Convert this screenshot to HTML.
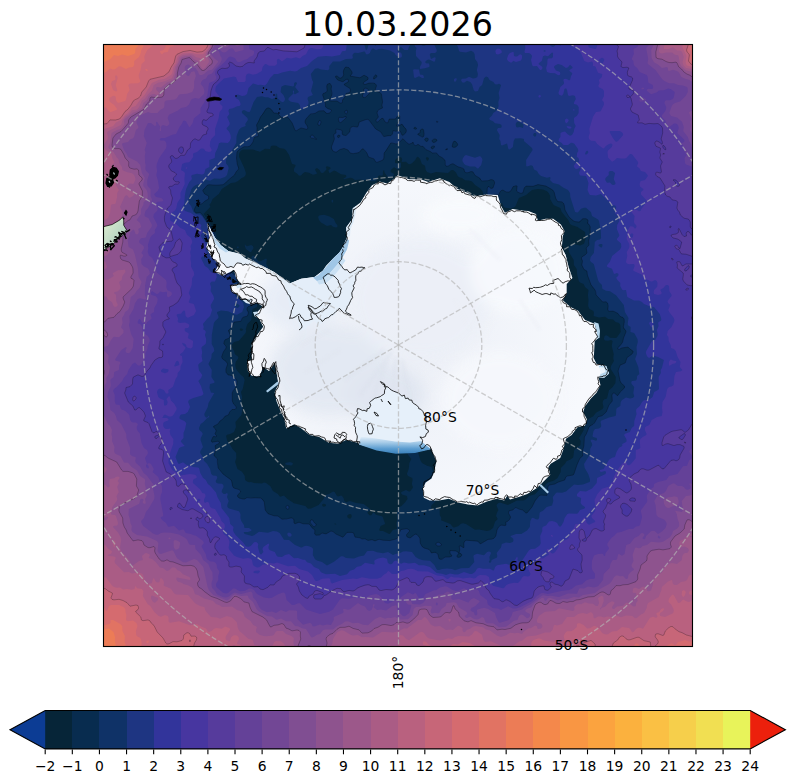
<!DOCTYPE html><html><head><meta charset="utf-8"><title>10.03.2026</title>
<style>html,body{margin:0;padding:0;background:#fff}svg{display:block}text{font-family:"DejaVu Sans","Liberation Sans",sans-serif;fill:#000}</style></head><body>
<svg width="795" height="783" viewBox="0 0 795 783">
<rect width="795" height="783" fill="#fff"/>
<defs><clipPath id="ax"><rect x="103.5" y="44.5" width="589.0" height="602.0"/></clipPath>
<radialGradient id="ig" gradientUnits="userSpaceOnUse" cx="398.5" cy="345.0" r="190"><stop offset="0" stop-color="#eceff6"/><stop offset="0.45" stop-color="#f0f3f9"/><stop offset="1" stop-color="#f7f9fd"/></radialGradient>
</defs>
<text x="397.5" y="36" font-size="33.33" text-anchor="middle">10.03.2026</text>
<g clip-path="url(#ax)">
<rect x="103.5" y="44.5" width="589.0" height="602.0" fill="#062538"/>
<path fill="#082c4f" d="M103 44L693 44L693 647L103 647L103 44ZM271 146L270 148.9L265 148.8L260 151.7L253 149.6L243 149.4L241 150.6L239.3 153L239 156.8L244.3 168L245.9 173L245.7 175L244.1 177L241.7 178L238 181L235 182.5L231 182.9L221.8 189L218.8 194L212.6 199L211 202.7L209.3 205L210.3 206L210.2 207L203.7 214L214.9 231L216.4 237L216.5 243L217.7 246L217.4 251L218 253L221.6 259L226 261.4L227.7 263L233.2 272L241 276.5L243 276.4L245 272.2L249 270L250.3 266L252 263.7L253 263.1L255 263.8L256.3 263L255 262.2L253 262.3L251.4 260L251.4 257L253 255.6L255.7 257L258 260.9L259 261.2L261 261L266 258.5L266.9 259L266.2 264L269.6 270L267.9 275L268 279L267 279.5L264.4 275L263 273.9L260 272.9L258 272.9L256.7 274L256 276.2L245.8 278L244.6 282L241.1 286L242.1 289L245 291.6L248 291.8L253 289.1L256 288.9L259 290.5L261 294L260.6 296L257.2 303L257 307L252.5 309L251.3 320L247.4 324L245.8 329L246.1 331L245.6 333L239 340.7L234 341.9L231.6 345L231.7 347L234.1 351L234.8 354L238.4 357L238 358.8L235.7 362L235.3 365L235.7 368L237 370.6L240.9 375L243.5 377L244.7 380L242.7 389L240.9 392L242.2 397L241.3 402L242.6 408L241.4 415L235.4 422L236 427L234 432L230 434.1L227 434.8L226.1 436L227.3 441L230 444.4L232.5 449L236.2 453L236.3 458L235.1 462L237.5 469L242 471.8L244.8 476L245 480L247 481.6L249 482.2L251 481.9L254 483.1L262 483.5L264 482.6L266 482.9L270.2 486L273 491L277.9 494L280 496.7L284 495.6L287.5 499L294 503.2L305.3 506L308 508.8L311 508.6L318.6 505L323.6 499L325.4 495L329 493.9L333 491.4L334.6 492L337 496L338 496.5L341 495.4L342 495.9L343.6 498L344.4 501L346 502.2L350 501.1L356 503L363.6 504L369 508L370.5 510L367.6 512L367.5 513L369 514.8L370 515.4L371.6 515L373 512.5L374 512.7L376 514.7L382 516.2L382.7 517L385.2 524L380.6 526L379.2 530L380 531L383 530.9L389.2 534L390 533.8L392.9 530L397 529L396.5 523L397.4 520L397 515L397.7 509L399 507.2L401.4 506L405 502.4L407.5 499L407 496L402 494.6L401 493L401.4 492L406 489.9L409 491.6L410 491.5L412.7 488L412.9 487L411.8 484L412.6 480L412.2 478L408 476L406.9 474L408.7 469L409.4 463L411.3 459L408 454.7L407.3 453L408.4 450L410 447.9L416 448.8L418.3 453L420.3 460L422 463.1L427 465.7L431.5 467L433.2 472L437.9 475L437.1 482L438.8 486L441.6 488L442.1 489L439.8 492L439.3 496L436.4 498L435.1 502L431.7 505L431 507L431.9 509L433 509.3L436 507.7L439.6 509L439.8 515L441.4 518L441 520.2L450.4 524L453 527.2L454 527.5L458 526.2L461 523.8L463 523.2L466 523.9L475 529.8L479 529.5L487 531.1L490 530.3L493 528L495 521.8L497.7 519L496.1 516L496.8 513L498.4 510L496.6 506L496.6 505L498 503.2L500 502.5L508 505L517 500.6L523 500.6L525 500L529.2 496L535 494.2L539 489.9L544 487L546 483.9L548 482.4L554 480.5L557.5 478L560.7 472L560.9 468L564.8 464L566.7 461L570 459.8L572.6 458L573.3 457L574.2 450L580.4 445L580.7 441L579.1 438L583.2 431L587.8 420L590 417.9L593 416.4L596 412.7L602.6 409L603.5 407L602.6 403L603 401L604 399.6L607 398.4L609 390.2L612.7 387L615.4 383L615.8 377L611 369.6L610.6 368L611 366L613.9 361L613.2 358L613.7 354L611.7 346L612.6 341L611 339.9L608 340.7L605 340.6L603.8 339L604.6 336L606 335.3L608 335.9L610 337.7L616 337.9L617 337.3L620.7 332L620.3 325L619 323.1L615.6 322L613 319.5L608.2 319L605 316.7L599 317.4L593.6 316L593.9 313L593.4 311L589.5 309L588.1 306L588.5 300L587.9 295L588.5 290L585 287L583.6 284L580 282.4L578.8 281L577.1 274L576.7 269L573.9 265L573.7 260L568.8 252L568.5 248L570 245.4L574 244.2L580 245.5L584 243.8L585.5 239L585.1 232L577 226.7L572 225.3L570.1 224L568.2 220L561.7 212L560.3 208L554 205.3L552.9 204L550.1 199L550.2 196L548.7 193L547 191.3L543 189.4L538 189L532 190.1L526 194.9L518.9 198L515.6 206L514.6 207L511 208.5L505 207.7L503.8 207L502 203.2L501 202.7L498.2 203L495 202.4L492 203.3L490 202.5L485 198L482.3 191L480 188.2L475.1 185L472 181.5L469 180.4L465 180.2L462 178L459 177.2L457.7 176L456 172.5L453.2 170L451 170.3L448 173.1L436 171.9L431 173.4L427.1 172L425.7 170L425 165.8L421.9 164L420 158.8L418 156.7L417 157L415.2 160L412.3 163L410 164.2L408.4 164L406 161.7L401.6 162L402.2 159L401 157.2L399 157.3L397 158.2L395.1 160L395 163L398 163.6L401 162.4L401.1 167L400 168.6L398 169.6L394 167.2L390.8 170L390.6 172L394.2 174L393 176.6L390 177.9L387.7 177L384.8 173L384 170L383 171L382.9 175L382 175.7L379 175.6L377.7 177L376.6 180L375 181.2L371 181.3L367 179.6L364 180.2L361 179.6L355 180.1L352 178.1L350 177.7L344 179.2L343.3 179L344 178.2L346.3 177L346 174.9L341 174.3L336 171.2L334 170.6L330 173L329 172.6L328.4 170L330.3 169L330.7 168L329.5 167L327 166.3L325.8 167L326.5 169L326.1 170L323 172.9L321 172.8L319.5 170L317 168L315.4 169L315.1 170L316.9 173L316.5 174L313 174.8L309 172.8L305 172.1L303 173.2L301 175.4L299 175.8L297 173.5L294 171.5L293.9 169L295.5 166L295.5 165L292 163.8L289.1 155L285.8 150L284 148.7L279.6 148L276 145.8L273 145.5L271 146ZM427 156.9L425.8 158L427 160.8L428 160.4L428.9 159L428.8 158L427 156.9ZM240 328.5L239.8 330L241 330.9L243.3 330L242 328.5L240 328.5ZM323 503.7L321.9 505L323 506.5L324 506.8L325.8 506L326 505L325.2 504L323 503.7ZM335 523.6L334.1 524L336 524.5L336.4 524L335 523.6ZM350 514L348 514.8L347.1 516L347.9 518L350 518.7L351.1 518L351.8 516L351 514.3L350 514ZM331.8 200L333 199.8L333.3 201L333 202.2L332 202.7L331.4 201L331.8 200ZM321.8 215L324 214.8L329 216.3L333.9 219L335.6 223L337.4 225L337.4 227L336 227.4L333 226.7L331 225L327 226.1L321 222.6L319 220L318.1 217L319 215.6L321.8 215ZM245 243L245.3 245L247 246.3L251 244.9L252.9 246L253.6 248L251.1 252L250 251.9L245.9 249L244.8 246L245 243ZM236.8 247L238 246.3L238.8 247L238.7 248L237 248.2L236.8 247ZM352 282L353 281.9L353.6 283L353 284.3L352 284.6L351.4 283L352 282ZM261.1 371L262 370.5L264 372.3L262.6 373L261.1 371ZM249.3 376L250 375.2L251.9 376L250 377.2L249.3 376ZM290 462L292.7 463L292.9 464L292 465.2L291 465.6L286 464.8L284.8 464L286 462.8L290 462Z"/>
<path fill="#0f3267" d="M103 44L693 44L693 647L103 647L103 44ZM346 67L345 67.6L343.7 70L343.3 72L343.7 75L342 77.6L340 78.3L337 75.9L335.8 76L335.4 77L337.7 80L342 81.6L343 81.7L346 79.4L348 79.2L348.6 81L348.2 82L344.4 84L344.4 85L350 88.5L350.6 90L350 92.5L346 93.5L344.9 97L342.5 100L342.5 102L341.8 103L340 103.1L337 101L330.4 101L329.5 100L331.8 95L331.1 89L331.6 86L330 83.4L327.6 84L326.7 86L327.2 91L326 92.4L323 93.7L322.6 95L325.3 103L325.6 107L328 108.7L331 109.6L331.7 111L329.4 113L327 113.6L324 110.8L319 110.9L315 113.4L310 114.4L306 119L305 121L305.2 123L307.3 126L307.9 128L307 129.4L301 127.9L296 131L295 130.2L292.2 123L288 117.4L282 117.8L277 113.1L273.8 113L271.8 110L270 108.5L268 107.8L266 108.9L260.4 117L256.5 125L257.1 128L256.9 131L258.5 135L258 136.6L254.7 137L253 142L250.1 146L248 146.7L244 146.7L239 149.8L237 152L236.5 158L237.2 164L238.6 169L236 172L234.5 175L223 184.7L216 185.2L209 184.7L207 185.4L202.9 190L202.9 191L204.7 194L208.6 196L208.6 199L205 201L202 203.7L197 205.1L196 205.8L194.5 209L194.3 211L196 213L200 212.4L202 214.2L213.7 231L215.1 237L215.4 243L216.7 247L216.2 251L216.6 253L218.5 257L220.9 260L226 262.8L227 264L232 272.9L234 274.6L237.5 276L238.1 277L237.2 280L237.7 283L237 287L239.4 289L241 292.7L243 294.7L245 295.9L248 295.1L249 295.5L251 297.9L253.8 299L254 300L253.8 303L253 304.5L248 306.8L247 308L247 310L248.4 313L247.4 316L243 317.3L241 321.3L234 322.1L232.4 327L228.7 330L228.5 331L230.2 335L229.4 338L225 339.8L224 342L223.9 344L226 346L226.1 348L223.3 352L221.6 357L222.7 359L226 361.4L227.7 364L225.9 369L226 372.2L228 374.9L231 375.3L235 377.8L237.1 381L236.8 385L232.2 393L232.3 401L233.6 404L236 406.4L236.3 408L235 409.5L232 409.5L229.7 412L228.4 415L225 416.2L223 419L220 421L218 424L214 426L213.3 427L215.5 429L216.2 431L214.9 434L217 436L216 436.9L214 436.4L213 436.8L211.2 441L212 442.2L218 441.2L219.4 442L219 443.5L215.7 445L215 446L215.9 450L214 455L214.3 456L217.5 459L218.2 468L223 474L231.1 480L232.5 486L233.8 488L239 489.6L240.5 491L240.7 492L237.6 495L237.8 497L239.2 498L243 499.1L244.7 499L247 497.6L261 498.1L264.3 502L265.2 510L268 513.7L274 515.8L278 516.1L282 519.2L292 518L293.6 519L294 523L295 523.8L299 522.2L303 523.8L309 524L312 527.8L314.9 530L314.7 534L316 535.2L319.5 535L322 533L326 533.9L331 531L333 531.6L336 534.1L343 537.2L347 532.4L352 532.4L353.6 533L355 537.1L360 537.8L362 539.1L365 538.8L368 540.4L372 539.7L375 540.9L379 539.3L383 540.2L390 540.6L396 539L397.7 538L399.2 533L401 529.5L407 528.7L409.3 530L409.7 531L406.3 535L407.1 537L410 538L415 534.2L417 534.6L419.9 538L420.2 543L422 546.4L424.1 548L429 549.4L431.4 553L436 552.4L438 554.6L439 558.7L441 559.4L445 557.1L449.4 557L452 556L450 553.2L450 550.5L456 551L459 552.9L459.8 550L459.2 546L461 546L463 547.5L464 547.5L463.8 543L464.8 541L466 540.2L478 541.2L480 543.7L481 543.6L488 539.4L492 539.1L494 538.2L495.8 536L497 530L498.5 527L501 525.1L505 525.6L506 525.1L505.7 522L508 521.1L509.9 519L510.6 517L508.4 513L509 510.8L513 509.9L515 507.8L516 507.6L519 509.1L522.6 510L525.9 513L527 513L532 507L535 500.9L539 495.8L541 495.1L547 495.4L547.9 487L549 485.1L554.8 484L558 482.2L564.7 480L565.8 477L567 476.1L573.1 475L573.9 474L577 464.8L580 458.1L582.7 456L582.4 451L583.9 446L584.4 437L586.3 434L589 427.1L594.4 423L598 416.7L602 415.8L606.2 412L609 405L612.3 401L611.9 395L613 393.1L614.6 393L617 395.5L618 395.3L620.2 392L624.4 388L624.5 386L621.1 383L620 380.8L618.1 371L620 365.2L625.2 363L627 357.6L632 354L633.2 352L632.9 351L630 349.1L628 347L621.7 348L619 349.5L617.7 349L618 347.4L620 345.8L622.7 342L623.5 338L626 332L626 331L623.3 327L624.3 322L624.1 319L623 317.6L620 316.4L618 313.6L615 311.9L613 311.1L609 311.3L608 310.5L608.2 306L607.5 303L606 301.8L602.7 302L596.1 295L595 290L591 284.8L587.4 275L586.9 271L584 269.5L581.8 265L582.5 261L581.3 258L582 256.8L585 255L587 253L586.2 248L589.1 245L588.7 241L590.3 233L590.3 227L589 224.3L587 223L588 222.5L588 220L586 218.7L583 218.7L579 222.1L575 221.6L573 220.6L569 217L565 210L564.2 205L563.3 203L562 201.9L558 201.6L557 200.8L555.6 198L554.1 192L552.7 190L546 186.1L538 184.6L533 186.3L526 186.1L524.2 188L523 192.7L521 193.4L518 192.3L516.6 191L517.1 186L516 185.7L513 186.7L511 190.7L509 192.1L506 191.9L503 190.1L502 190.1L500 191.7L499.3 194L498.2 195L494 194.6L489 195.7L487.8 195L487 193L487.3 188L489 186.3L491 188.5L493 187.9L494.7 183L494.1 181L493.2 180L491 179.6L488 180.7L481.9 181L479.6 178L475 175.4L473 171.9L471 171.5L468 172.7L466 172.7L464.7 172L463.9 169L458 166.8L453 163.7L451 164.2L448 166.2L446 166.1L445.2 165L444.8 160L442 157.5L438.9 156L437 153.4L432.3 153L430 151.3L426 149.7L423 146.3L421 146.4L418 144.3L416 145.7L415 145.4L413.4 144L413 142L412.3 143L409 144.2L407 142.9L403 138.7L398 143.6L396 144L390.8 143L384.1 153L383.9 158L383 160L377 162.4L375.7 162L374 158.9L368.5 157L366.9 153L363 148.8L362 149.1L359 152.6L353 153.7L350.2 153L348 150L344 148.4L340 149.5L336.5 152L335 152L332.8 151L331.4 147L334.4 139L333.7 135L334.1 134L336.1 133L335.8 130L336.4 129L341.3 130L342.2 131L342.2 134L343 135L346 135.6L349.7 132L350.3 128L351 127.3L353 126.3L357 127.1L358 126.6L359.2 122L366 119.5L368 119.3L369 120.1L375.7 129L380.9 132L384 136.6L391 135.6L392.4 134L393 130.6L396 131.3L399 130.2L400.2 131L402 135.1L403 135.3L405.6 133L406.4 131L406 129L402 124.1L398 126.3L396.6 126L397.9 122L399.6 121L399.8 116L399 115.2L397.4 116L396 118.5L395 119L389.2 119L388 122.6L387 122.9L385.1 122L383 118.3L381 118.8L378 121.9L377 122.2L376 121.4L376 119.9L378.4 117L377 113L377.5 111L379 109.6L382.5 108L381.9 105L382.6 102L381.4 94L380 92.5L377 91.5L375.1 90L376.4 86L376.3 85L375 83.6L369 83.1L365 84.6L363.5 84L363.2 83L364 82L368 79.4L368.1 78L367.5 77L364 75.2L360 77.8L350 76L352 73.7L352.1 72L349 67.7L346 67ZM376 74.8L374 76.5L373.6 79L375 78.6L376.6 77L377 76L376 74.8ZM415 127L413.8 128L414.4 129L416 129.3L416.4 128L415 127ZM422 128.9L420.4 130L420 132.9L417.7 134L418.4 135L423 137.1L423.8 136L424.1 134L423.6 130L423 129.1L422 128.9ZM426 138L424.8 139L424.8 140L426 141.4L427 141.3L428 140.6L428.3 139L427.6 138L426 138ZM434 138.9L431.9 141L433 142.4L435 142.2L436.7 141L437 140L436 139.1L434 138.9ZM447 148.8L446 149L445.7 150L447.8 149L447 148.8ZM454 141.1L453 142.7L452.2 146L452.4 147L454 147.4L456 146.9L457.7 145L457.6 144L456 141.8L454 141.1ZM459 553L456.8 556L458 557.4L460.4 557L462 555L461 553.7L459 553ZM338 135L337.4 137L339 137.5L340.2 136L340 135.5L338 135ZM433 145.9L431.2 147L431.1 148L432 148.8L433 148.8L434.6 147L434.3 146L433 145.9ZM363.8 89L365 88.1L367 88.5L368.9 90L369.9 92L369 94L365 97.7L363 97.3L362.3 96L363.5 93L363.8 89ZM344.9 111L346 110.3L347.5 111L347 113.4L346 114.1L345 113L344.9 111ZM344.1 117L346 116.4L346.1 118L341 122.4L340 122.7L339.1 122L338.3 119L339 117.3L343 117.6L344.1 117ZM318.8 121L320 120.1L321.1 122L320.1 125L319 125.6L317.8 124L318.8 121ZM311.9 135L313 135.2L315 138L316.8 139L316 139.6L314 138.4L311 137.9L310.1 137L311.9 135ZM254.5 293L256 293L257.8 295L257 297.5L255 298.5L254.3 298L254 295L254.5 293ZM286.2 506L287 505.3L288.9 506L289 508.4L288 509.2L286.9 509L286 508L286.2 506ZM310.9 520L312.6 520L314.6 523L316.2 524L316.2 525L315 526.4L314 526.9L313 526.2L310.3 523L310 522L310.9 520ZM436.3 543L438 542.2L439 542.4L441.2 544L441.7 545L440 545.9L437.7 546L436.1 545L435.8 544L436.3 543Z"/>
<path fill="#1e3582" d="M103 44L364.2 44L366 50.2L367.3 49L368.7 44L374.9 44L375 46.2L375.9 45L375.3 44L381.1 44L382 44.5L382.6 44L410.7 44L408.9 47L408 50.1L404.3 50L401 47L397.8 49L397 51L401 52.8L401.7 54L402 56.2L401 57.7L399 57.2L395.6 55L394.5 53L390 50.6L382 48.7L379 49L376 50.3L373 48.3L371 50L369.9 53L368 54.2L366 54.3L365 51.8L364 51.4L358 53L355 52.7L354 53L352.4 55L352.9 58L352 58.8L346 59L340 61.4L333 61.6L329.3 66L329.3 69L328 70.2L321 69.6L318 68.2L315 68.7L310.8 74L312.1 80L313.3 82L311 91L312.9 95L308 97L307.5 99L308.6 102L308.4 104L306.3 107L303 109.1L301.7 109L300.5 108L299.8 105L298.2 103L291 101.7L288.4 100L288.7 98L292.9 94L293 93.1L295 94.3L299 92L295.1 87L297 83.2L296 81.9L294.2 83L293.9 86L293 86.4L285 84.9L282 86.2L281.3 87L280.6 92L283.4 95L285.2 99L284.4 101L283 102.2L281 101.5L277.4 98L277.1 94L276 93.6L275.4 95L275.7 97L274.8 98L272 99.1L268 97.3L265 97.3L262 96.3L257 97L253.6 102L250 111.7L248 112L244 110.1L241.9 111L242 113L247.5 118L247.9 120L245.2 124L245.7 126L241 127.7L238.9 130L236.6 136L236.3 143L231 152L228.2 155L226 160L226 163.3L228.1 166L228.7 168L227 175L225 176.9L220 178.8L214 178.4L210 180.7L205 179.6L202 183.7L198 184.2L195 185.5L193 187.1L191 190L188.4 200L189 203.5L191.1 206L193.4 212L196 214.1L200 214.5L202 216L212 231L212.4 236L215.3 248L214.5 252L215.1 255L214.4 258L216 260.4L219 261L224.7 264L227 266.8L230 273.9L229.6 278L232 282.1L233.9 284L232.9 288L234 289.5L236.4 291L236.6 292L235.1 295L235.3 296L239 298.4L243.2 303L244 307L242.2 312L237 314.8L235 314.6L228 311.3L221 310.5L217.2 312L217 313L218.4 316L218.4 318L215.2 321L213.9 323L211.8 335L211.7 344L213.8 348L214.3 351L211.7 354L211.4 358L208.4 364L211.8 370L211.4 377L214.7 382L214 383L210 384.1L209.5 388L211 392.5L214.3 393L208.5 403L207.8 407L204.3 414L204.7 416L206 417.5L207 417.8L209 415.6L209.2 417L207 418.2L203.5 422L200.7 424L199 428L199.4 430L202 432.2L202.8 434L200.8 438L200.6 440L203 447L200.4 451L200.2 453L202.9 457L204.1 461L207 463.8L210.1 469L211.3 474L213 475.4L216 475.7L217 476.5L217.3 478L215.7 481L216 482.4L218 483.6L222 483.7L223.3 485L223.6 487L222 490L221.7 492L223.7 494L225.1 494L227 493L227.8 494L227 497L228.7 501L227.3 505L227.4 507L229 508.6L239 511.2L240.5 514L240.4 518L241.3 521L243.9 525L244.5 528L249 527.9L251.8 530L250.8 531L248 532.1L244 531.9L243.8 533L244.8 534L252 535.9L254 535.2L259 531.7L268 532.7L273 531L277 531.4L279.7 533L284 539.7L289 540L295 545L301 547.4L302 547.5L304 546.2L306 545.8L309 546.2L312 547.4L313.1 549L312.8 555L315 559.2L317 560.6L322 562L327 565.4L334 561.7L341 556.2L343 556.3L346 558L354 558.5L359 556.4L364 555.5L367 551.3L368 551L373 550.7L377 552.3L383 553.3L388 551.9L393 555L396 553.7L399 553.6L403 551.4L406 551.3L412 552.1L415.6 557L419 559.1L423 560.2L430 560.8L434.3 565L436.5 569L437.6 570L439 570.1L442 568.9L447 568.5L452 569L455 570.3L461 568.3L469.1 568L474.3 562L473.4 556L474.1 555L477 553.8L484 555.3L487.1 552L489 551.5L490.4 552L491.1 553L489.4 557L489.8 560L488.8 562L490 563L491.1 562L491.6 560L497 557.6L497.3 556L496.6 553L501 547.6L501.8 544L506 542.4L510 543.1L512.7 542L513.4 541L513.3 539L512 537.4L510.8 537L510.6 536L516 534L521.3 534L527 530.5L529.8 527L530.3 521L531.8 518L533 517.7L536 519.3L538 519.5L539.1 518L539.6 513L540.3 512L543 510.7L546.7 507L552 505.4L553.3 501L552.8 497L556 493L557 492.6L562 492.8L566 491.4L574 484.4L578 485L583 484.6L589.5 482L590.1 481L589.9 479L588.2 474L584.7 468L584 464L590.2 454L590.1 449L592.2 445L592 443.3L590.6 441L590.9 440L592 439.6L596 440.7L597.1 440L596.7 438L593 437.1L592.5 436L593.5 431L595 429L599 428.6L601 427L601.2 425L600.5 422L601 420.8L609 417.4L615.4 416L616 415L616.3 409L617 407.9L620.3 406L620.7 402L622 400L626 397.6L630 398.5L632.5 398L633.9 397L634.2 396L633.3 393L634.2 387L631.6 384L631.2 382L632 381L636 380.5L636.9 379L637.1 376L639.3 374L638.3 367L635.1 359L637 354L636.5 347L637.8 342L637.5 339L634.1 333L630.5 332L630.6 327L628 325.3L627.7 324L628.5 318L624.9 312L623.8 305L616 295.2L610 291.2L606 290.8L602.6 289L602.1 288L602 285L599 282.1L598 280L593.8 264L591 262.1L590 260.4L590.6 257L593.9 253L594.8 242L597 240.1L600 239.6L601.1 238L600.7 230L599 221L598 219.6L592 216L590.9 212L586 207.7L584 207.7L581 208.8L578 212.3L577 212.6L575.1 212L570.3 197L570 193L568 189.9L563 187.4L559 184.4L553 182.9L550 180L550.5 178L550 177L547 177.8L541 176L538.8 174L537 171L534 169.4L532.8 166L531 165.3L527 166.6L526.2 166L526.1 160L532.6 150L532 148L523.9 141L524 138.9L521 138.3L515 138.6L513.7 141L512.9 147L510 149.3L509 149.6L508.4 149L507 143.4L502 145.4L501 145L500.4 141L499.2 139L499.7 135L496.8 130L498 128.1L501 127.7L501.7 127L501.4 125L500 124L495 123.3L493 121.3L490 120.1L489.3 119L489.4 118L492 115.4L493.2 113L496.2 111L498 108L498.6 106L498.3 102L499.5 98L498.6 93L501.1 85L499 83.8L497 84.6L495 84.2L493.4 82L489.5 80L488 77.2L486 76.5L484 78.2L482.1 85L479.6 87L478 90.9L475 91.4L473.7 90L472 84.2L470.3 82L467 80.7L464 82.7L462 82.2L461 80L462 78.8L466 78.4L469 76.8L473 78.5L475.7 78L477.4 77L477.9 74L476.8 70L478.1 65L477.3 62L475 59L474.6 54L473.4 52L471 50.8L466 52.4L460 51.7L459 51L458 47L456.3 44L693 44L693 647L103 647L103 44ZM236 302.9L234.6 304L234.7 306L236 307.5L238 308L239.7 306L239.3 305L236 302.9ZM600 244L598.4 245L598.8 246L601 247.6L602 247.2L602.5 245L602 244.1L600 244ZM517 121.8L515.7 124L516 126.6L517 127.5L520 127L523 128.1L523.5 125L523 124L519 121.8L517 121.8ZM534 132.9L533.1 135L534 136.3L535 136.7L536 135.9L536.4 134L535.6 133L534 132.9ZM414.7 44L420.9 44L422 45.4L424 45.7L426 45L426.5 44L434 44L436.8 50L436.5 52L435 52.9L431 53L429.9 54L429.8 55L431 59L434 57.4L435 57.2L435.7 58L435 61.3L434 61.8L429 59.5L427 60.1L425 62L426 63.3L429 63.6L429.6 66L429.2 67L425 68.3L420 69L419.8 67L421.5 64L421.7 62L416 56L415.8 51L416.6 48L414.7 46L414.7 44ZM413.1 70L414 69.2L419 69.4L420 74.4L423.1 75L424 77L423.7 78L422 78.1L419 76.3L415 77.9L414 77.2L413.1 70ZM454 79L456 78.1L456.9 79L456 81.3L455 81.8L454 81.2L454 79ZM292.9 91L294 90.5L294 92.7L293 92.9L292.9 91ZM464.3 156L466 155L475 157.7L480 156.1L481.9 158L482.5 160L481.2 165L478 168.8L475 166.6L470 166.4L465.4 165L464.2 164L462.4 161L462.5 159L464.3 156ZM287.7 533L289 532.6L291 533.5L291.8 535L291 536.6L289 536.7L288 535.9L287.2 534L287.7 533Z"/>
<path fill="#32349b" d="M103 44L346.9 44L346 50.3L345 51.1L343 51L342 51.6L340 55L332 56.6L326 56.1L318 56.8L312 61.1L307 65.9L301 67.9L297 71L295 71.5L290 70.7L282 72.4L278 74L274 74.1L270.1 78L267 83.6L265 85.4L261 84.7L258 84.9L253 83.4L248.5 88L247 93.9L245 95.5L242 96L238 94.5L236 95L235.4 97L236 98.2L239 100L240.4 103L240.5 105L239.4 106L237 106.2L233 108.2L229.2 109L228.4 111L229.4 114L227.1 117L229.8 123L229.5 125L226.7 128L226.6 129L229 131.6L230.5 135L230.9 138L229.8 141L227.8 143L221 142.5L219 143.2L217.7 148L215.2 153L214.7 158L209.4 160L209.4 167L205.5 169L204.4 173L203.6 174L202 174.6L197 173.8L192 174.9L191.2 176L192 179L189.3 182L186.1 189L184.9 195L184.3 204L182.5 207L182.6 208L185 211.1L191 212.9L196.1 217L195.8 221L201.4 225L200.5 228L203 232L201 234.5L200.6 236L206.3 245L206.4 247L205.3 250L207 255L206 256.3L202 256.5L201 258.2L204.9 266L208 268L211 272.2L215 272.2L216 272.9L216.8 277L215 281.5L212 281.5L211 282L210 283.8L211.1 287L210.6 291L213.5 296L214.1 299L210.7 305L210.8 307L212.1 310L210.1 316L207 318.9L202.9 324L203.8 327L203.3 329L203.8 330L205 330.3L205.9 332L204.9 335L206.2 339L206.1 342L205.6 344L202 346.7L201.4 348L202.2 352L201.6 356L202.5 361L198.7 364L198.2 365L199 370.6L202.3 375L201.1 378L198.3 381L201 386L203.5 394L202 395.6L193.3 398L188.9 400L188.1 402L190.1 407L187.8 412L185 414.1L181 414.6L179.8 416L179.4 418L179.9 419L184.4 421L186.3 423L185.1 429L183.5 433L183.5 438L180.8 441L181.1 442L184.8 446L181 447L179 448.3L175.5 457L178 463.3L179 464L183 462.3L187 465.2L190 465.6L193 467L198 467.4L199 468.1L200.3 473L203 477.8L205.8 480L207.9 484L210.4 486L216 492.5L217.4 497L220.8 503L221.5 508L229.3 518L230.2 524L233.6 527L233 530L233.6 532L235.6 535L243 542.3L246 546.5L249 546.7L251 545.7L254 542.3L256 541.9L257 542.4L258.3 544L257.8 547L259.6 553L261 554.7L263.4 552L262.4 549L263.3 547L268 543.7L269 543.7L269.2 545L268.4 547L268.7 549L270 550.3L274.8 552L276.8 556L278 556.7L282 557L285 555.1L289 554L294 558.2L298 558L303 559.8L305 559.7L307 562.3L311 563.4L314 567L318.9 569L320.8 572L322 572.8L326 574.2L335 573.8L340 576.1L347 574.3L350 570.7L354 569.6L357 566.8L361 565.9L365 562.7L374 564.5L374.6 564L374.2 561L375 560L378 558.4L383 557.6L387 558.8L387.9 563L390 564.2L392 564.1L394 561.2L396 560.6L401 563.7L404 562.6L409 563.6L415 562.7L419 565.2L424 565.2L430 567L436.7 573L442 573.7L446 575.1L450 573.4L455 574.5L458 574.4L464 572.1L470 573.9L472 573.9L475 572L477 568.8L479 567.8L483 568.8L490 568.7L493 570.4L494 570.3L495.1 567L497 565.2L506 563.8L509 564.8L510 564.5L514.4 561L517 556.6L517.8 558L517.4 560L518.1 561L520 561.5L521.8 561L529 550.3L531 549.1L535 548.8L539 546L540 545L540.7 543L540.1 536L542.3 531L542.2 528L543 526.8L546 525.4L549 521.4L552 520.9L555 521.7L557.1 523L559 526.3L560 526.7L561.2 526L563.5 522L564.6 518L567.4 514L569 513.5L577 513.7L578.1 513L580 509.9L584 508.8L585 508L584.9 507L582 505L580.6 503L581.1 498L577 496.2L577 494L580 491.1L586 491.6L592 488.6L596.7 483L597.1 478L605.5 474L606.1 472L605 471.1L601 472.1L599.7 471L600 470.1L603.6 469L609 459.8L612 457.7L615 456.9L616.5 452L619 447.7L622.3 446L622.2 444L626.1 442L626.6 441L626.3 439L624 435L625 433.8L629.9 432L631.6 428L634.1 426L634.3 421L636.6 414L636 411L636.4 409L639.8 406L642 402L644 400.2L649 399.7L652.6 397L654.2 392L658 390.1L659 389L658.6 377L660.9 373L660.7 370L662 367.8L663.9 360L658 357L655 356.1L652 356.2L649 357.9L647 356.2L645.8 353L646.2 351L652 341.1L655.2 340L657.4 336L657.7 334L656.8 330L658.6 326L658.1 323L658.6 322L661 320.8L661.3 319L659.8 314L654 307L650 306.5L644 304.1L642 301.9L639 300.6L634 300.4L627.3 297L626 290.1L623 290.2L622 289.5L620.2 286L620.3 283L617.4 280L616.3 278L616.7 277L618.2 276L618.5 274L617 273.1L614 273.9L612 268.7L607.4 267L606.9 266L607.2 265L609.8 262L612.1 256L620 249.6L621.3 247L621 243.5L617.1 240L616.8 239L619.2 236L619.3 235L616.8 229L617.2 225L619.3 221L618.5 217L615.7 214L614.7 212L616.3 207L615 205.6L612.2 205L601 194L596 195.4L590 194.9L589.2 194L587.5 190L588.5 183L586.1 176L580 175.6L578.9 173L580.8 169L580 167.2L578 168.8L576 169L574.6 168L573.6 166L576 162.4L579 162L578.9 159L578 157.5L576.7 157L577.1 153L578.3 151L578 149L574.5 144L573 143L571 142.8L568 145.1L564 144.9L563 144.7L561.7 143L558.6 141L558.9 139L560.4 137L560.5 133L562.5 132L565 131.4L568 134.6L570 135.8L572 134.9L573.7 132L574.2 129L575.7 126L574.2 123L573.9 118L577 115.8L578.6 113L578.7 107L577 104.7L574 104L574 102.5L575.8 99L575 95.9L573 95.3L569 95.9L568 95L567 90L566 88.2L564.5 89L563.3 94L562 95.8L559.4 95L558.4 93L560.3 87L563.8 84L564.1 83L563.3 80L564 79L566 78.8L569 80.2L570 80L571 76L572.2 74L572.1 73L569.5 71L569.5 70L572.5 68L572.4 67L570 64.8L568 67.2L566 68.1L561.7 65L558 64.1L555 65.4L553.8 67L556 70.4L560 71.9L560.3 74L559.6 75L558 75.3L555 73.3L550 73L547 72L546.1 68L547.3 64L547.4 60L548 58.6L552 58.2L552.9 57L553.1 53L552 52.6L548 56.3L545 55.4L543 56.2L541.8 61L539 63L538.5 64L542.5 67L542.2 69L541 70L540 69.9L537 66.1L533 66.2L532.2 65L531 60L532.1 56L530.7 54L529 53.1L525.2 53L524.4 52L525.3 48L525.1 44L549.2 44L551 46.3L553 47L554.7 46L556.1 44L559.3 44L560 45.5L561 45.3L562 44L693 44L693 647L103 647L103 44ZM544 50.4L543.3 51L544 51.5L545 51.7L545.7 51L545 50.1L544 50.4ZM587 150.8L586 151.4L585.3 153L585 154L586 154.8L588.2 153L588 151.1L587 150.8ZM610 170.9L608.7 172L608.8 175L605.5 178L605.2 180L607 182.7L610 182.6L612 184.8L614 185L615.4 184L615.5 183L613.7 179L615.1 173L612.5 171L610 170.9ZM496.6 49L498 48.4L500 49.1L501.8 51L501.6 53L498 54.5L496 54L495.3 51L496.6 49ZM512.5 52L513.6 52L514 55.7L515 56.6L517 56.4L520 54.2L521.9 55L522.1 58L521 60.5L516 62.1L513 60.7L512.4 62L511 62.8L508 61L506.9 59L508.2 55L509.9 53L512.5 52ZM539.5 95L540.2 95L540.9 96L540.7 97L539 97.7L538.3 96L539.5 95ZM573.6 109L574 108.7L574.5 110L574 111L573.1 110L573.6 109ZM565.4 119L567 118.5L568.8 120L568 121.9L566 123.4L564.9 121L565.4 119ZM566.8 126L571 126.7L571.6 128L570 128.7L568 128.3L566.8 127L566.8 126ZM649.9 322L652 321.7L653.6 323L653 327L652 327.6L651 327.1L649.3 324L649.1 323L649.9 322Z"/>
<path fill="#4736a0" d="M103 44L323.9 44L322.4 48L320.7 49L317 49.3L312 48.1L310 48.2L308.2 50L306 54.2L302.6 56L300 58.6L296 57.3L291 58.4L287 57.7L282 61.6L279 58.9L278 58.7L276.9 60L277 64L275 65.7L269 65.7L266 64L265 64.1L262.6 67L261.8 71L256.6 74L253 74.7L249 73.4L247 73.9L245.8 76L245.6 81L244.4 82L237.9 82L236 77.2L234 76.4L224 78.5L217 85L215.7 87L215.3 91L220.9 99L219.7 103L220 104.1L222.3 106L222.6 107L222.1 109L219.6 112L218.7 118L215 129L215.2 135L211.3 139L210.1 142L209.8 146L211.8 150L211 151.4L208.7 152L205.2 151L204.1 149L203 148.4L201 148.5L197 152L194 152.9L193 153.8L193.2 157L190 161.5L189 162.2L185 162.7L182.2 164L180.9 170L184 171.8L185 173.3L184.4 179L184.8 184L180.4 193L180.6 198L177.3 203L176.4 208L175 210.4L171.3 213L170.4 215L169.9 219L170.8 221L175.1 223L180.6 228L184.9 230L187 234.8L191 237.9L192.2 241L192.1 243L190.5 246L191.1 249L190.1 252L190.8 256L190.4 259L191.2 263L191 266.5L193.8 272L194.3 275L192.2 278L191.7 285L188.7 293L190.6 297L188.7 302L189.7 303L193 303.7L194 304.5L196.1 311L194 314.9L188 317.7L187 317.6L185.6 316L185 311.1L184 310.5L183 310.9L181 313.7L177.7 314L176.6 315L178.2 319L177.6 321L178 322.2L180 322.9L185 322.6L188 323.7L189.3 325L188.9 327L188 327.9L185 328.3L184.7 330L185 331.2L188.2 333L188.8 334L187.8 338L193.1 341L192.6 347L191 348.4L188.5 348L186.5 347L186.1 345L185 343.7L182 342.7L182.9 345L185.2 347L185.6 348L183 352.1L180 354.2L180 355.2L182 356.1L182.6 362L180.7 366L180.3 370L177.7 373L177.5 376L175.6 379L173 386.8L168.3 390L168.5 393L168 393.6L166 393.6L164 390.3L160 388.4L158 389.4L156.9 392L158.3 397L160 398.4L163.8 400L164 405L165 405.8L167 404.7L167.7 402L166.4 399L169 395.9L170 396.9L171 400.5L174 403.6L176.7 408L176.4 410L173 415.4L171 416.4L169 416.4L165 414.6L163.9 415L162.3 418L167 418.1L168.4 419L168.6 420L168 420.5L164.1 422L163.3 423L163.2 426L164.3 428L166 428.9L168 429.1L170 428.4L170.5 429L169.7 431L170.4 435L173.4 439L173.2 444L170.4 452L168.5 460L168.5 463L172.3 470L177.4 473L180 475.4L190 474.1L195 474.8L196.6 476L196.6 478L194 478.9L193 480L192.9 483L199.8 489L202.4 493L205 493.8L205.6 496L203.9 500L204.2 502L205 503L206.6 502L208 501.9L209 503L210.1 507L212 508.3L215 509L220.4 518L221.4 521L224.6 524L224.9 527L222.8 532L223.7 534L227 536.6L229 540L229.5 542L228.6 548L229.5 550L234 555.6L237 557L243 558.8L248 557.9L251 558.8L251.9 560L253 565L254 566.1L257 567.5L259 567.2L263 564.4L266 564.4L270 563L274 563.6L277 562.6L288 566.3L295 565.8L299.2 569L308 571.5L312 575.1L315 580.3L316 581L318 580.7L322 578.8L329 578.2L330.2 579L330.7 582L332 583.5L342 580L353 578.6L357 579.1L362 577.3L370 578.7L377 578.8L381 577.5L383.4 575L386.6 573L388 571.1L389 571.2L392 574.1L397 574.1L401 571L404 570.6L408 568.9L411 568.7L414 569.2L418 571.3L428 571.5L437 575.4L443 576.3L447 579L448 579L451 576.4L454 577.4L459 577.4L463 578.4L470 577.4L474 578.5L475.7 578L477.8 576L480 574.9L486 575.3L489 577.1L489.9 582L493 585.7L503 588.2L504 588.1L506.4 585L509 583.8L514 582.8L518 582.9L520 581L522.5 577L524 576L528 576.6L529.5 576L530.5 574L528.2 569L529 566.6L536.1 562L538 557.7L543 558.4L548.4 555L549.1 554L546.6 551L547 548.9L549 549.1L551 553L553 553.4L555 552.3L558.6 547L559 542.4L567 539.4L568.9 538L569.7 536L570.1 532L574 528L575 524.5L576 524L579 524.3L581 523.2L583.2 518L584 517.5L585.2 518L586.7 523L589 524.7L595 522L595.2 521L592 518L591.3 516L595.2 511L595.4 508L594.5 500L597.4 494L602 488.7L609 486.4L611 483L613 481.7L613.4 478L615.6 473L620 466.3L623.2 463L625 461.7L625.9 462L627.5 465L629 465.3L631 464L635.1 459L635.7 458L635.8 450L639 449.1L640.3 448L639.8 441L640.3 439L643 436.7L646 435.2L646.6 434L644.8 430L645 427.6L646 426.4L649.3 425L651.7 420L657 416.9L661.8 416L662.5 412L662 408L662.5 402L665.6 397L667.2 389L669 386.9L672 386.3L673.6 385L674.4 376L676 372L681 371.2L682.4 370L679.8 367L680.5 362L677.6 357L675.7 351L674 349L671 348L670.7 345L668.7 341L668.4 337L666.9 335L667.7 331L671.5 327L674 322.1L674.4 320L673.8 318L669.2 312L668.3 310L670.3 305L668 303L667.5 301L671.5 296L671.7 295L669.3 291L669 286L667.8 285L666 285L663.3 288L661 289.3L660.4 290L661.8 293L661 294.2L658 294.9L654 294L653.6 292L654.1 290L657 287L657.3 286L657.5 283L656.8 281L655 280.1L652 281.6L651 281.5L648 279.9L644 279L642 274.7L633.8 271L633.1 270L634.7 266L634 264L629 264.3L627 263.4L625.9 262L627.3 256L626.7 252L629 248.2L629.5 246L629.2 244L626.6 239L627.5 231L630 226.3L633 226.4L635 228.7L636.5 227L636.1 225L634.8 224L633.9 222L634.6 216L630.6 211L631 210L637 210L639 211.2L640.6 211L641.3 209L646.6 202L646.2 200L641 194.5L641 192L643.3 190L643.3 189L640 186.6L639.6 184L640.6 181L645 179.9L647.9 176L647.6 175L645 171.9L640.9 171L639.3 168L637.5 167L637 166L638.2 163L638 162L632 154.2L630 154.1L626.3 158L625 158.6L621 158.6L617 157.9L614 160.8L612 161.7L608 157.5L607.5 152L608 150.5L611.8 147L612.5 145L612.1 144L611 143.5L609 143.9L605.8 146L604 148.2L603 148.4L597.2 144L595.2 141L591 140.7L589 139L588.6 137L589.8 133L589.3 129L593 116.7L596 111.9L600 111.6L600.8 111L604 104.5L603.7 102L602 100L604 96L604 91L602.5 89L599 87.2L598.3 86L599.5 83L598.9 80L601.9 77L602.2 74L598 72.8L595.6 67L595 66.3L592.9 66L593 63L592 61.5L588 62.5L584.3 61L581 53.1L578 48.9L577 47.9L573 46.5L571.6 44L588.6 44L588.3 46L589 47.5L595 49.1L596 48.9L597.8 44L693 44L693 647L103 647L103 44ZM163 368.6L161.3 370L160.9 371L161.5 372L165 373.2L168 372L168.6 370L168 369.3L163 368.6ZM177 360.8L175.8 362L174.2 366L175 366.6L179.4 365L178.8 362L178 360.9L177 360.8ZM198 498.8L196.4 501L197 501.8L199.5 501L200.5 500L200 498.9L198 498.8ZM255 570.8L253.2 572L254 573.1L258 573.4L259.8 572L259.8 571L259 570.4L255 570.8ZM631 233.7L629.9 235L630 236L631 237.6L632 238L633 236.5L633.3 234L632 233.3L631 233.7ZM602 57.8L599.6 59L599.1 60L600 62.2L602 63.3L603 62.8L604.2 60L604 58.7L602 57.8ZM610 130.9L609.6 132L610.1 133L613 138.3L616 142.1L618 141.1L623.2 135L622.7 133L619.9 131L610 130.9ZM185.6 168L187 167L187.3 168L186.2 169L185.6 168ZM670 360L671 359.6L673 360.6L676 360.9L676.5 362L675 363.4L673 363.8L670 365.6L669 365.4L668.9 362L670 360ZM550.9 535L552.4 535L553 537L551 536.2L550.9 535Z"/>
<path fill="#563b9c" d="M103 44L304.9 44L304 48L297 51.8L283 50.9L276 49.4L273 49.9L268 47.3L267 47.7L264.3 51L260 51.6L258.1 53L257 57L254 61L254.3 63L250 62.4L248 62.6L245.1 64L243 66.2L240 66.8L236 66L232.3 63L229.8 62L228.7 63L229.6 66L228 67.9L225 68.5L222 68.2L218.7 70L217.8 71L217.4 73L219.6 76L219.6 78L217.5 81L213.8 84L212.6 86L210.9 91L210.4 96L209 101L208.8 107L206.9 111L207 112.1L208 112.9L212 113.3L213.3 115L212.6 116L210 116.7L207 120L206 120.5L204 119.6L203 119.9L202.1 122L202.2 124L202.9 125L207 126.9L208 128L208 129.2L206.5 132L206.7 134L203 135L199.7 140L198 140.3L195 138.7L192.9 140L190.6 143L190.2 148L187.6 150L185 154.9L184 155.4L181 155.2L178 157.9L176 158.5L174.6 158L173 155.8L171 155.8L170.1 157L171.5 160L171.7 162L168.9 165L168.7 167L171.4 171L175 172.6L176.4 174L176.4 175L173.2 178L173.6 180L176 181.9L179 181.8L179.3 183L178 184.2L175 184.1L172 186.3L170 186.3L168.7 187L170.6 190L170.9 194L172.5 198L170.8 205L167.6 208L165.1 214L164.4 217L164.5 221L166.4 226L171.1 231L173.1 240L172 241.1L164 242L158.9 247L160.9 254L162 255.7L166 257.9L170 257.6L172 260.9L176 263.1L177 264.4L177 266.1L173 268L171.9 270L174.3 274L177 283L180.6 287L181.8 295L177.9 302L173 305.5L169.4 307L169.7 311L166.8 315L167.5 317L169.2 318L169.1 319L167 319.4L162.9 322L162.8 326L165.9 332L163 337.7L159.9 341L159.8 345L158.9 348L159 349L162.5 351L162.8 355L162.4 357L161 357.6L159 357.5L154.9 360L144 376L142 376.5L138 374.8L133.4 377L132.7 379L132.5 384L130 386.6L126 387.5L125.8 390L124.6 393L128.3 402L132.9 406L134.7 410L136 410L137.7 408L139 407.5L140 407.9L143.9 412L145.5 416L143.7 420L143.9 421L148 422.6L149 423.7L152 431.7L153 432.7L154 432.8L156 431.6L157 431.6L158.4 433L158.8 435L155.3 436L154.7 437L155 438L157 438.3L159 436.2L160 436.2L161.5 438L162.7 442L160 445.1L158.5 448L159 448.9L162 449.3L163.4 451L162.6 461L166.2 472L170 473.8L175 478.6L176.2 481L177 486.1L179 486.3L180.8 484L182 483.7L185 484.5L186.6 486L187.4 489L187 489.8L185 489.9L183.1 491L183.6 493L186.4 496L187.8 499L185 507L184 507.6L183 507.4L180 503.3L179 503.1L177.7 505L177.5 507L182 509.5L188 510.8L191 508.9L193 508.8L202 514L203 516L202.7 517L200 518.9L199 518.8L198 517.3L197 517.2L195.8 519L196.3 520L198.6 521L198.2 524L199 527.6L200 528.1L203 527.7L206.9 531L207.2 535L209.5 539L210 542.4L211 542.5L212.6 539L215 536.8L219.1 538L219.8 539L217 541.3L215.1 544L214.7 547L215.3 549L220 554.8L221 555.2L224 554.7L226.2 556L226.7 559L229 562L228.8 566L229.7 567L232 567.1L236 566.1L240 566.8L241 567.5L241.7 569L241.1 572L244.5 576L244.2 581L245 583L250 584.2L254 587L258 586.7L260 589L263 589.7L268 587.2L270 584.9L274 585L276.1 582L280.8 579L282.4 576L289 573.4L295 573.3L298 574.6L299.6 577L299.3 581L296.4 584L298.3 587L299.3 591L301.9 595L306 598L308 598.3L309.2 596L313 594.1L314.7 591L317 590.4L323 592.8L323.4 594L323 594.7L320 593.6L314 594.9L313.8 598L315 599L321 599L322.6 598L324 595.5L326 595.1L331.6 591L337 588.3L341 588.8L342.6 591L344 591.8L349 590.4L353 591L360 586.9L368 584.7L372 586.4L376 586.4L379 590L381 590.6L386 589.5L392 590L396 587.2L399.1 581L407 577.6L409 578.8L410 581.4L411 582.4L415 582.5L415.9 583L416.8 585L419 585.7L423 582L424.3 578L425.8 577L428 576.6L431.8 577L435 580.9L436 581.3L443 579.6L446 582.2L453 583.1L455 582.5L457 581L460 580.5L471 584.1L473 584.2L478.4 583L481 580.5L484.4 584L486 588.3L489 590.8L489.9 593L494 598.7L499 599.4L502 601.7L503 601.8L506 599.8L507 600L510 601.5L514.4 605L517 605.6L523 601.3L532 598L533.2 596L534.2 591L537 587.8L539 586.6L543 585.7L544 586L544.6 589L545.4 590L548 590.3L551.4 587L550.2 585L550 583L552 582L555 584.2L558 584.7L561 586.2L562 586L563.7 584L565 581L569 579L573 569L578 570.7L580 573L582 572.4L582.4 571L581.6 569L581 564L582.2 560L582 555L578.1 551L577.4 549L579.3 547L579.4 544L580.5 541L579 538L579.2 532L580 530.4L582 529.1L584.1 531L585.7 538L581.9 540L583 541L585 541.3L586 540.9L586.9 538L589.4 536L592.3 530L593.9 529L596 528.5L601 531.1L603 530.9L604.3 530L604.1 526L604.7 524L603.8 523L603.7 521L605.6 515L603.1 512L603.1 511L605.6 508L607.7 503L606.6 501L606.9 499L609 498.2L610.5 499L610.8 500L610.2 501L608.2 503L611 504L613.8 501L619.5 498L619.7 497L619 496.1L616 494.7L614.7 493L615 489.4L617 487.9L620 488.7L626 492.8L627 493L628.8 492L631 489.7L631.5 488L631 484L629.2 481L629.3 479L630 477.5L634 474L638.4 472L639.6 470L641.2 469L643 468.7L647 470.2L649 470.1L658 465.3L659 465.5L662 468.8L664 468.7L671 460.4L674 459.9L676 460.9L678.3 460L679.7 458L680.1 455L684.2 448L684 446.4L680 444.6L677 444.6L674 445.6L668 443.6L665.7 444L663 445.5L662 445.3L662 442.6L663.7 437L665 435.3L673 431.1L681 429.7L682 429.9L685 432.5L688.4 430L692 424.1L693 423.4L693 647L103 647L103 44ZM181 146.8L179.2 148L178.4 150L179 152L181 153.5L183 152.4L183.7 150L183 147.4L181 146.8ZM170 508L170 509.6L171 509.6L172.4 508L171 507.2L170 508ZM215 553.2L214.2 555L215 555.4L216.1 555L216.6 554L215 553.2ZM622 503.7L620.4 507L622.2 510L622 513L622.6 514L626 516.2L628 516L631.2 512L631.9 509L627 504.3L624 503.1L622 503.7ZM632 497.8L629.8 499L629.5 500L630 500.9L635 501.3L635.6 500L635 498.3L632 497.8ZM684 433.6L679.2 437L678.8 438L682 439.8L683 439L685.5 435L685 433.8L684 433.6ZM615.8 44L693 44L693 228.9L691 228.3L690.3 227L690.3 222L689 219.7L688 219L684 218.2L680.4 215L679.4 212L677.7 210L676.9 208L677.9 202L676 200.6L672 199.8L670 197L667 196.2L665.7 195L664.3 191L665 186L660.1 178L657 176.4L655.8 175L655.7 173L656.6 172L660 173L661.5 172L660.5 166L662.3 162L659.8 158L660.7 155L659.8 152L660.3 148L656 146.3L654.7 143L656 141L657 141L662 144.3L662.3 144L662.4 142L661.1 139L662.7 133L662.5 128L661.3 126L658 123.5L649 123.4L645 124.3L642 122.8L637.7 123L637.6 122L639.4 120L638.2 115L632 112.1L630.3 109L632.3 104L631 98.3L630.1 97L633 94.3L634 92L633 90.4L629 89L629 88L632.6 80L632.6 78L631.5 77L628.3 76L627.6 75L627.3 72L628.9 68L627 67.2L623 67.6L621 66.2L622 62L618.3 58L617.4 56L617.7 54L617 51L618.4 47L618.2 46L615.8 44ZM663 145.2L662.7 147L663.4 148L665 149.9L666 149.4L665 146.7L663 145.2ZM673 180L675.4 182L676.3 186L679.1 186L679.5 184L676 180.1L674 179.6L673 180ZM627.2 95L628.4 95L629.9 97L627 97.3L626.5 96L627.2 95ZM678.1 229L679 228.5L682 234.4L684 236.6L686.5 236L686.1 233L688 231.5L689 231.8L691.4 235L693 235.8L693 256.6L686 254.2L681 253.5L679 249.7L676.6 249L674.9 247L675 245.5L676 245.1L677.7 246L679 248.3L680 248.6L681.8 243L681.7 242L679.4 240L677 238.8L673.3 238L671.1 236L671.3 235L672 234.6L676 234L677.9 233L678.7 232L678.1 229ZM179 239L180 238.9L182.2 243L181.1 251L178 254.2L170 256.6L169.7 254L170.3 252L174 247.1L175.7 242L179 239ZM671.9 258L673.1 259L673 260.1L671.3 259L671.9 258ZM676.7 262L678 261.5L680 261.9L682 265.8L683 265.8L686 263.9L693 264L693 274.3L691.3 275L690.4 276L691 277L693 276.9L693 285.4L691 285.8L687 284.9L683.4 281L682.7 279L683.2 273L677.1 268L677.5 265L676.7 262ZM688 265.6L684.9 269L684.5 270L685 271.1L687 270.4L689.1 268L689.2 266L688 265.6ZM686.1 289L687 288.2L688.8 289L687 290.2L685.8 290L686.1 289ZM692.8 316L693 320.4L692 319.7L691.3 318L691.6 317L692.8 316ZM133.1 397L134 396.2L135 396.2L136 397.2L136 399L134 401L133 400.8L132.5 400L133.1 397ZM187.2 490L188 489.7L189 490.5L189.5 492L189 492.7L187.2 490ZM205.6 517L208 516.3L209 517.5L209.9 521L209 522.8L207 522.5L205.6 521L204.8 519L205.6 517ZM571 545L573 545.3L574.9 548L570 549.4L569.6 548L571 545ZM541.7 571L543 570.7L547.9 572L553.8 576L554 577.3L553 578.2L550 578.8L549 581.9L546 581.7L544.1 580L543 577.4L540.9 575L541.7 571Z"/>
<path fill="#644198" d="M103 44L248.9 44L249.4 49L254.1 51L254 53.5L253 55.5L250 56.7L247 59.2L244 59.9L240 61.9L238 62.1L237 61.5L235 58.3L233 57.2L230 56.6L228 57.8L225 61.7L216.9 69L215.5 71L214.9 74L216.4 77L216.2 79L214 80.9L209.1 83L207.4 95L204.5 102L200.6 108L200.6 113L194 118.3L192.7 123L190 127L189 126.7L186 121.3L184 120.6L183 121.3L181.8 124L179.5 127L176 134L173 134.5L165 137.9L161 137.9L159.8 139L159.9 140L161 140.6L164 140.4L165 141.1L166.3 143L166.5 146L166 148.2L159.2 158L156.8 164L156.5 167L157.2 171L156.3 175L158 180.8L159.1 188L157.6 191L154.3 194L154.4 195L156 196.9L161.4 198L163.3 200L163.1 201L162 201.6L158 201.7L156 203L155.9 204L157.6 207L157.7 209L157 211L153.9 214L153.3 217L157 224L157.4 226L154.8 230L155 233L151.2 236L150.1 238L147.9 245L148.3 248L147.7 252L149 255.5L152.2 258L155.9 265L156.3 271L157 272.8L166 280L166.7 283L166.3 287L167 289.2L168 290.4L171.3 292L172.1 294L170.8 296L168 297.4L166.9 296L167 292L166 291.7L163 292.2L160 291.5L159 293L157 294.3L152 291L151 292.6L150.9 294L151.6 295L156 296.3L157.8 299L157.1 303L154.3 308L154.1 312L150.8 314L150.5 315L151.7 318L151.3 319L147.2 322L146 324.4L142 322.4L140 319.1L139 319.1L137.6 322L138 323.4L140.2 324L142.4 327L142.6 331L143.5 333L147.9 336L149.6 339L149.8 341L147.7 346L147.2 350L145.4 353L145.3 357L141.7 364L140 365.6L138 365.5L135 362.4L132.4 364L128.5 370L127.2 374L123.6 378L122.2 381L117 386.7L114 388.9L113.1 391L114.8 395L114.7 401L115.6 404L116 404.5L119.6 405L121 409.3L125 410.8L128.6 414L129.3 415L130.2 420L131.6 422L133 422.6L136 422.4L137.9 424L136.8 427L136.8 429L138 431.6L139.7 433L141.5 443L144 448L147 450L147.9 452L147.7 454L144.9 458L147 464L146 465.2L146.1 467L148 468.5L148.8 468L148.5 466L147.1 464L149 463.1L151 463.9L153.9 469L152.6 472L158.3 477L159.8 482L161.9 486L162.1 492L160.8 495L160.3 499L163.3 515L163 516.2L161 517.1L160.6 518L162.1 520L166 523L168 526.5L169 526.8L174 525.7L179 530.6L183 529.3L184 529.9L185.8 533L191 533.9L193 535.1L196 535.8L203.1 541L203.9 543L201.6 546L201.8 547L205.7 554L206.9 559L210 561.2L214 561.7L215.8 563L216.8 565L217 568.1L219.2 571L219.3 573L218.2 576L218.3 580L216 584L216 586L217 587.6L223 592.7L226 593.6L228 592.9L233 588.4L235 588.6L239.2 591L241 591.3L245 590.8L249 588.6L251 588.6L254 590L256.1 593L258 594.5L264 597.6L269 598.3L272 597.8L277 594.7L282 592.7L284 592.5L285.3 594L286.6 600L292 604.9L294 604.9L298 603.2L300 603.2L306 609.4L320 614L329 611.7L333 609.5L339.6 600L342 598.3L349 598.7L354 597.5L363 598.2L367 597.2L370 595.2L376 593.9L378.9 595L382.7 599L385 603L388 603.7L396 599.7L399.4 599L401.1 597L408 592.3L413 594.4L415 593L416 593.2L419 598.4L421 599.1L423 597.9L425.5 594L434 590.3L436 590.2L440 587.6L445 586.2L447 586.5L452 589.7L456 591L458 590.9L464 588.2L469 590.4L474 589L477 589.2L478.9 591L480.2 595L487 600L487.7 604L488.5 605L492.7 608L498 608.4L501 610L508 606.2L513 608.5L516 608.6L520.6 607L532.2 601L537 595.9L541 593.2L543 593L548 594L561 591L569 589.9L572 588.7L576 585.6L582 584.3L586 580.5L590 579.1L593.4 579L595 578L595 573.7L592.3 570L591.8 568L591.9 561L594 555.6L598 554.1L602 553.7L603 554.1L604 556.1L605 555.9L605.6 553L608.8 549L609 548L607.2 545L607.6 543L611.3 538L614 536.1L617 532.7L621 532.1L629 529.1L633 528.9L636 526.6L639 526L640 525.1L642.1 517L640.8 511L641.1 510L647 502.1L647.3 500L646.7 497L647.1 495L650.8 489L653.7 487L654.1 484L657.9 482L666.3 480L669 476L677.5 474L683 466.3L687 465.7L689 460.4L692.4 458L692.7 457L689.2 452L689.2 451L691 449.2L693 449.3L693 647L103 647L103 44ZM638.6 44L693 44L693 167L686 164.4L685 163L684.5 158L686.6 155L684.3 151L683.6 146L682 144.5L680.3 144L680.1 143L683 142.8L684.5 141L684 139.6L677.2 133L678.8 128L678 125L676 123.4L674 123.4L670 126.5L668 126.9L666.6 125L665.7 121L661.8 117L662.1 115L665 111.4L666.1 109L666.2 107L664.4 103L665 101L666 100.2L670 100.2L672.7 99L673.9 97L674.8 92L670.6 89L668 88.4L664 90.3L659 90.6L657 92.2L652 94.1L651 94.2L647.1 91L646.6 90L648 88.7L652.3 89L653.1 88L653 85.7L652 84.5L648.8 83L648.2 82L647.7 77L646.7 75L639.6 72L637.2 68L634.6 66L633.6 64L633.4 61L631.6 59L633.9 54L633.4 49L637.3 47L638.6 44ZM641.7 88L643 87.5L644 88L644 89L642 89.5L641.2 89L641.7 88ZM640.3 98L643 97.2L645.8 99L646.1 100L645 101.3L640 101.8L639.1 100L640.3 98ZM691.4 209L693 208.4L693 212L690.9 211L691.4 209Z"/>
<path fill="#724795" d="M103 44L243.5 44L243.5 50L236 52L235 51.7L233.3 49L232 48.3L229.4 49L226 52.1L224 52.6L222 51.9L219 49.1L217.7 49L217.7 50L219.3 52L220.4 56L221.7 58L221.7 60L219.8 64L215 69L212 73.6L208 74.9L206 78.5L203 79.7L201.2 82L200.7 84L203.3 87L204.5 91L204 94L199 98.7L195 98.1L192 99.1L191 100.1L189 104.4L186 107.1L181 108L178 110.4L169 114.7L167.6 118L169.4 123L169 124.6L167 126.2L163 125.1L162 125.6L161 127L161 131L160 131.1L159.5 130L160.4 127L157 121.8L155.9 122L156.4 125L155 126.3L151 123.1L148 123.1L144.5 130L143.8 136L146.8 143L144.6 150L145.5 152L144.8 156L145.1 163L145.7 165L145.3 169L146.2 171L149.2 174L147.3 180L147.3 185L148 186.6L150.6 189L150.6 196L152.2 200L148.1 208L145.4 211L144.4 215L145 216.5L148.4 218L152.1 225L151.5 227L147.2 233L146 237L145 237.8L141 238.3L139 241L139.5 243L143.5 246L144.2 248L141.3 253L143 254.7L143.3 256L141.2 259L141.5 264L144 266.6L148 268.4L149.4 271L149.9 274L146.7 277L145 286L144.9 295L146.4 299L145 299.5L140 298.3L137.7 299L135 303.3L133.5 309L129.4 316L129.7 322L128.9 325L131.1 334L133.7 339L132.7 348L130.4 352L129 353.2L127 353L125.7 352L125.6 350L126.7 348L126 347.1L122.8 349L120.6 351L115.4 359L115.2 360L116 360.8L120 361.7L120.5 363L119.3 365L118.9 370L114.2 372L113.7 377L111 378.9L110.3 380L110.9 386L108 391.9L107.4 397L109.5 402L110.4 410L114.3 413L115.9 416L116.9 420L121 423.8L126.3 434L126.4 438L130.2 448L130 454.2L132 456L135.4 457L135.8 458L135.2 461L136 462.9L140 466.5L143.7 473L147 475.7L153.8 485L153.1 489L154.5 496L154.3 499L148.4 509L145.9 512L144 518L141.1 521L141.5 523L143.3 526L153 533.5L156 534.7L158 534.7L161 533L164 532.6L171 532.7L179 534.6L185.3 538L187.2 540L189 543.9L190 544.7L195 545L195.5 549L201 555.1L203.2 560L208.3 564L210.3 569L212.4 572L212.8 579L211.5 583L211.7 586L212.2 588L215 591L217 594.3L222.6 597L226 597.6L229 596.5L233 593.2L235 592.4L241 593.9L251 591.6L252.4 593L253 597.3L256 600.6L259.8 608L262 609.9L267 612.2L272 611.4L276 613L281 609.9L286 612.1L289 610.3L296 610.5L296.9 611L297.1 612L297.3 619L303 624.8L310 622.7L311.7 624L312.5 626L314 626.6L320 624.6L323 625.4L327 624.5L331 624.9L333.8 620L333.7 617L342.9 613L343.5 612L343.1 609L344 608.7L348 609.8L350 609.2L358 602.9L361 605L365 606.6L367 609.6L369 610.9L371.4 610L372.9 607L372.9 605L374 603.8L374.7 605L373.4 607L377 610L381 609.6L386 610.4L392 606.2L396 605.2L396.9 606L396.9 609L397.9 611L402.8 616L405 616.2L409.3 613L411.3 606L411.2 605L408 604.4L406.4 603L405.9 600L407 598.8L411 601L412.4 604L420 604.5L423 603L428 597.1L433 597.5L439 594.4L443 594.4L447 591.5L449 592L451.1 594L451.5 599L453 599.9L459 599L468 602.5L469 602.3L469.4 601L471.5 599L474 598L479.6 601L479.4 602L475 606.3L471.4 608L470.5 610L471 611L474 612.6L474.8 615L476 615.6L477 615.1L477.3 614L476.9 610L478 609.3L484 607.8L488.3 609L495 613L496 617L498 621.1L499 622.6L500 622.8L508.9 620L511.5 616L512.8 612L522 609.6L524 607.8L530 604.6L542 595.5L544 595.3L547 596.1L551 595.7L559 596.9L568 593.4L577 593.7L579 589L580 588.3L584 588.5L588 586.6L594 587.4L598 586.2L603 580L603.7 574L609.7 568L610.4 564L612 560.9L613 559.9L616 559.9L617 559.2L618 554.4L619 554.1L622 555.8L624.5 554L626.2 545L630 543.8L634.5 538L638.5 536L641 533.2L642.5 533L644.1 534L644.6 535L642.4 538L643.1 539L645 539.2L646.1 536L651 531.2L653 530.7L654.7 531L658 533.9L662 531.4L665.5 528L666.8 524L666.1 522L664 519.6L658 517L656.5 515L655.6 505L654.2 501L657.8 495L664 493L665.9 491L668.2 486L672 483.7L674 483.2L678 486L682 486.1L683.8 487L686 489.4L688 489.7L689.9 489L690.6 488L690.6 486L689.2 484L690 483.2L693 484L693 647L103 647L103 44ZM436 602.7L435.9 605L437 605.6L438 604L437 602.6L436 602.7ZM658 535.4L657.9 538L660 538.4L660.4 537L658 535.4ZM648.9 45L649.4 44L693 44L693 148.6L691.6 147L691 144L689.1 141L687.8 137L683.2 131L683.8 127L682 121.7L677 117.5L671 116L669.3 113L671.8 106L673 104.2L675 102.9L680 101.5L685.7 96L687.8 92L687.6 88L687 86.9L683 85.4L678 84.9L674 83.2L669 83.3L664 80.8L662 79L655.5 70L647.9 64L647.5 63L648.2 59L646.1 48L648.9 45Z"/>
<path fill="#804e92" d="M103 44L215.6 44L210.5 52L210.4 54L215 59.1L218 61L218.1 62L212 69.7L208 70.6L204 74.1L202 75L200 74.9L199 74.3L198 71.5L195.5 68L191 66.4L189 64.8L188 64.5L186 65.2L184.7 67L185.2 73L186 74.5L188 76L189 75.9L191.2 72L194 71.3L194.8 72L195.9 76L194.2 81L194.1 88L192.2 92L187 93.8L180 94.3L178.7 95L177 98.1L175 99.4L166 100.5L164.5 102L164.4 106L163.7 108L160.1 110L157.4 113L151 113.1L148 112.1L140 115.6L136.5 121L136.5 123L138.5 127L138.2 128L135.9 130L134 137.1L133 138.2L130 139.4L128 142L123 143.1L121.9 144L124 150L126.8 154L128.1 157L137 161.5L140.2 165L141.9 173L144.9 178L143.2 184L143.3 186L146.6 190L147.6 193L147.8 197L147.1 200L143.7 202L143.3 205L141 209L140.9 214L136.6 220L140 223L141.2 227L138.2 229L138.9 232L138 234L137 234.6L135.6 234L134 229.8L133 229.8L130.7 232L129.8 233L129.6 236L127.6 240L128.6 247L133 249.6L135 255L137.9 268L138.6 277L141.6 282L139.4 288L136.5 291L134.7 294L130.8 297L129 308.3L128 309.9L125 312L124 315L122 318L122.6 323L121.1 327L121.4 328L123.5 330L123.4 333L119 337.2L114 336.8L113 337.5L111 340L108 345.7L105 346.8L103 346.7L103 44ZM217.6 44L231.1 44L228 46.6L225 47.7L222 47L217.6 44ZM233.6 44L240.6 44L240 45.4L237 46.4L233.6 44ZM654 44L693 44L693 82.6L689 79.8L686 79.1L681.4 77L679 72.6L677 71.1L673 69.7L669 70.9L668 70.2L667.9 68L667 66.9L662 68.1L658 64.4L654 62.3L651.6 58L651.2 50L654 44ZM691.1 111L693 110.4L693 135.2L690.2 130L690.9 126L690.2 122L691.6 119L689.1 113L689.4 112L691.1 111ZM103 350L103 349.4L108.3 355L108.6 357L107.8 362L110 367L108.7 374L106.2 378L106.6 382L105 385L104.4 389L103 390.8L103 350ZM103 414L103 413.4L108 423.9L110.1 426L112 430L111.4 434L112.2 437L112 441L114.5 447L114.1 451L114.7 453L115.7 454L120.4 456L124 462.6L128 462.8L131.7 467L137 470.4L140.1 476L144.6 479L145.1 480L144.8 484L145.9 488L145.2 491L147 495L145.1 499L145.8 503L145 504.1L143 503.3L142.6 502L143.7 500L142.9 499L141 498.8L140 499.9L139.5 503L138.8 504L128.8 509L128.5 515L129.9 519L130.4 523L131.8 526L131.4 530L132.4 532L137 534.9L147 536.6L156.9 541L158.4 543L157.5 551L159 553.4L161 553.9L172 550.3L173.4 551L177 558.3L183 562.3L186 562.4L194 559L197 559.9L203.3 567L207.6 587L209 590.2L213.3 595L227 600.4L229 599.2L233 595.2L235 594.3L241 596L247 595.5L247.9 596L248.6 598L253 602L256.5 609L259 611.5L267 615.9L272 616.4L276 619.6L277 619.8L281 618.6L286 621.3L291 621.3L295 625.9L298 626.3L302 628.2L306 628.9L311 636.9L312 637.4L314 636.8L317 634.7L320 633.9L323 630.3L325 629.4L333 629.6L337 626.3L341.8 624L345 621.5L348 621.3L353 623.2L358 622.7L363 624.7L368 625.2L375 619.1L380 616.7L385 618.8L388 617.8L391 617.9L395 617L400 619.4L408 619.3L412.6 615L413.7 609L416 607.1L421 606.8L425 605.7L431 605.9L431.9 607L430.7 611L431.2 613L432 613.4L435 612.7L438 613.3L439.2 613L441.5 609L445.7 606L446.6 603L454 602.3L456.4 603L459 607.5L466.6 612L467.3 614L464.7 616L466 617.9L467.2 618L470 616.6L474 618.9L477 619.5L479 619L482 617L484 618L485.4 622L487 623.2L493 623.2L499 627.3L506 626.7L514 620.7L517.5 620L519 616L521 614.4L523 615.1L527 618.2L529 617.5L530.1 616L530 614L526 611.9L525.2 611L525.5 610L528 608.3L531 607.4L534.7 603L542 597.8L543.6 598L545 601L546 600.8L548 598.3L550 597.7L558 600.4L563 598.7L567 599.2L574 597.1L579 597.4L583 595L595 592.9L600 589L609.1 584L611.2 582L614 577.2L616 575.6L618 575.4L620 576.3L623 576.1L626 579L627.1 579L628 578L628.3 575L630.8 572L633.7 570L633.9 569L631.8 567L631.5 565L633.5 561L632.6 555L635 548.1L636 547.6L639 548.3L640.6 548L642.6 546L647 544.9L651 541.8L659 542.5L663 541.8L670 537.3L672.2 534L673 530.9L677 528.7L679.2 526L679 522.6L677.6 519L676.8 514L675 510.8L682 511.9L683.1 510L681.7 501L686 496.1L690 495.4L693 494L693 647L103 647L103 414ZM671.8 497L674 496.2L677.4 497L678.7 501L678.3 504L676 505.6L672 506.4L669 507.9L667 507.8L665.2 506L664 503.8L663.6 500L668 497.3L671.8 497ZM168.2 538L170 537.5L170.7 539L169 539.3L168.2 538ZM174.9 540L177 540.4L179.6 542L180.2 543L179.2 548L177 549.6L175 549.6L173.7 547L173.6 541L174.9 540Z"/>
<path fill="#8e538e" d="M103 44L213.3 44L211.7 48L208.7 52L208.2 54L208.7 56L212 60L212.4 62L211.8 64L209 65.8L205 69.9L203 70.7L201 69.7L197 64.2L193 61.2L190 57.8L189 57.5L182 59.5L181.1 63L178.8 67L177.4 73L177.3 77L176.5 79L173 83.2L169.7 84L164.9 88L164 90L163.8 95L163 96.4L157 97.7L151 97L150.1 98L149.7 101L146.5 104L144 109.2L130.9 117L128.6 120L128.4 123L124.2 128L121 131.5L116.1 134L112.9 138L112 145L112.3 147L115 148.7L119 148.5L121 149.5L125.2 158L128.8 162L128.6 166L129.8 168L134 169.2L137 168.9L138.5 170L138.9 175L142 177.9L142.2 179L138.9 184L142.4 191L142.3 196L139.3 201L138 211L137 213.6L135.1 215L132 216.1L130 219.8L128 220.5L122.8 225L121.1 228L123 237L122.8 242L121.2 249L121.4 251L122 252.3L127.1 255L126.1 256L124 256.2L120.6 255L120.1 256L120.5 258L122.2 260L129 262.1L132.5 267L133.1 273L130.8 277L131 278.3L133 279.1L134 280.5L133.4 286L132 288.5L123 297L123.3 299L124.8 302L123.2 306L120 311.4L117 313.7L114 317.3L108 318.3L103 323L103 44ZM657.8 44L693 44L693 77.6L690 75.3L687 74.1L683.9 72L681.5 69L678.8 67L677 62.9L676 62.1L669 62.5L666 61.5L662 59.2L656.5 58L656 57L655.8 52L657.8 44ZM103 330L103 329L107 332.5L107.8 335L107 336.6L105.7 337L103 334.6L103 330ZM103 339L103 338.3L103.6 340L103 341.1L103 339ZM103 369L104 370.2L104.3 372L104.1 374L103 375.9L103 369ZM103 456L103 455.1L105 455.5L108 458L116.7 462L121.6 470L123 471.4L128 471.4L133.2 473L136.8 479L136.4 486L138.7 490L136.7 496L135 498.1L121 504.7L119.6 507L118.8 510L119.3 512L122.7 518L122.9 523L124.3 527L127.2 533L133 540.9L138 539.9L142 540.7L143.1 542L144 545L148 547.6L150 547.7L154 546.5L155 547.9L154.6 551L155.2 553L159.2 559L161.6 561L164 561.2L167 559.8L170 561.6L173 561.9L183 565.8L191 565.4L194 566.3L195.9 568L197.3 571L198.1 576L199.4 579L199.5 580L197.4 583L198 585.9L199 587.4L201.9 589L203.7 591L211 596.4L227 602.5L230.4 601L234 596.7L235 596.3L237 596.7L241.3 599L244 601.9L248.9 603L252 611.6L262.8 617L266.6 620L270 626.6L271 627L274 625.3L278 624.9L282 623.5L284 624.6L286 628.1L292 630.9L297 630L299 630.5L300.5 632L300.8 639L298.3 645L298.1 647L103 647L103 456ZM692.6 499L693 498.5L693 501.7L692.6 499ZM687 520L690 520L693 522.3L693 647L326.2 647L327.1 643L326 639L326.7 637L330 634.4L333 633.3L337 629.3L340 627.4L345 627.3L349 626.2L353 628.4L359 629.9L362 633.1L368 632.8L371.7 631L374 628.6L378 627.2L382 624.7L385 624.5L391 625.6L394 624.7L397 622.4L403 621.9L407 623.2L409 622.8L413.8 619L418 614.6L419 610.2L421 609.2L425 609L427 609.7L429.6 615L433 617.5L439 617.1L441 616.6L445 612.8L447 612.4L450 613L451.5 611L453 606L454 605.6L455.1 609L458.5 612L459.4 616L464 620.8L468 621.9L471 620.6L476 622.8L483 623.7L488 625.9L494 626.8L497 629.9L502 629.2L505 629.5L511 628.2L515.2 625L519 623.6L522 622.9L527 622.8L529.2 622L532 618L532.6 612L535.1 605L539 602.3L541 602.3L543 603.9L545 604.7L547.5 604L550 600.4L552 600.9L556 603.2L558 603.5L560 603.4L563 601.5L567 602.4L570 601.6L573 601.6L576 600L580 599.5L587.9 597L594 596.6L600 592.6L602 591.9L604 592.2L608 594.8L609.3 595L610.3 594L611 590.7L614 588.2L616 585.6L620 585.7L623 584.8L628 584.5L635 582.2L636.7 581L637.8 579L637.8 574L640.1 569L641 565L646.4 561L647.1 559L647 556L650.6 551L659 549.2L663 549.9L669 549L670.9 548L671.4 547L670.4 544L670.6 542L675 536L680 533L684.2 529L684.8 525L687 520ZM307.5 646L310 645.6L311.4 647L306.6 647L307.5 646Z"/>
<path fill="#9c588a" d="M103 44L212.3 44L210.7 48L207.2 53L206.8 56L208.7 60L209 62L205 68.1L203 68.9L202 68.4L199.7 65L198.2 61L194 59.2L191 55.8L184 56.6L181 57.8L176.7 67L175.6 73L173.4 80L167 82.5L161 87.4L156.9 87L156.2 88L156.3 90L159 92.5L159 94L157 95L154 94.1L152 94.2L149 95.8L147 100L143.3 103L141.9 108L137 111.2L133 112.7L124.8 119L124 121L124.5 124L122 127.8L120 129.3L116.8 130L111.6 133L110.1 143L108.3 147L108.5 148L113.5 152L117 157.7L118.4 159L119.3 163L122 167L122.4 170L126.6 172L132 173.2L134.2 175L135.6 179L134 182.9L133 184L131 183.5L129 183.8L126.8 186L127.7 188L131 191L134 192.4L134.7 194L133 196.1L130 197.7L129 197.8L127 195.2L126 195.2L124.4 197L120 207L122.7 212L121.6 218L121 219.3L115.2 224L112 230L113 234L111 239L113.9 243L114 245L109.3 247L109 248L110.3 251L108 254.2L106 255.8L103 256.4L103 44ZM660.7 44L693 44L693 72L686 70.4L681 65.7L679.7 63L678.8 57L678 55.2L675 54.7L672 52.5L666 52.6L662 53.4L660 53L659 51.6L658.9 50L660.7 44ZM103 261L103 260.3L105.4 262L107.1 267L105.3 269L103 269.8L103 261ZM122 270L125 269.5L125.5 272L122.4 276L121.7 280L119 282L120.5 287L120.1 289L118 291.3L115 291.9L113.9 293L116.1 295L116.2 301L117.9 305L117 306.2L115 307.2L113.6 306L111.9 302L108 299.7L106.6 297L105 296.2L103 296.2L103 279.4L108 279.7L113.9 276L112.8 274L112.9 273L118 270.3L122 270ZM103 466L104 466.2L107 469L105.4 472L103 474L103 466ZM115.9 477L118 476.4L119.3 477L119.6 478L117.7 481L119 483L117.2 487L118.8 492L116.5 496L117.3 500L112.3 507L110.9 514L112 514.7L115 515L116 516.3L117.9 522L118 524L117 525.6L113.4 526L113 527L118 532.5L120.6 537L121.3 540L120.1 547L121 550.5L122 552.6L124.9 555L129.8 561L130.3 562L130 566L132 566L139 560.9L142.9 560L141.9 556L145 553.2L146.2 553L148.9 554L150 555L148.7 558L152 559.1L155.7 562L160 567.4L163 568.1L167 571.1L169 570.3L172 567.5L174 567.2L175.7 568L177.2 570L180 571.3L183 574.2L189.4 577L190.7 579L190 580L177 577.4L176.4 578L176.5 580L178 581.8L181 582.4L184 584.3L188 585.3L192 587.4L193.6 590L195 594.2L198 595L204 598.6L213 600.7L216 604.1L220 605.4L222 606.9L232 606.4L237 610.1L242 611.6L243.3 613L244.9 617L250.4 621L253 624.7L257 627L256 630L256 632L260 635L265 636.2L272 635.7L273.8 635L275.6 632L277 631.1L283 631.1L286 634L291.5 636L293.9 638L293.4 643L294.4 647L103 647L103 520.2L105 520.3L107 519.5L108.2 517L107 516.4L103 518.4L103 483.7L105.7 485L108 487.4L109 487.3L109.8 486L109.1 483L109.8 479L114 478.3L115.9 477ZM691.6 533L693 532.3L693 536.1L689.8 536L690 537.1L693 537.3L693 647L330.1 647L332.2 644L333 639L336 633.9L337.5 632L340 630.7L342 630.3L344.4 631L350 634.4L353 635.5L358 634.9L362 637.2L365 636.9L373 637.6L382 631.8L393 632.5L399 631.1L404 628.2L407 628.5L418 620L421.4 620L424 617.3L425 617.1L427 618.7L430.4 624L432 625.3L435 626.5L440 626.1L446 630L450 629.6L453 630L457.5 626L459 625.7L462.6 628L462.6 631L464 632.2L465 632L467 629.8L470 628.7L473 626.6L476 625.9L483 627.3L486 629.5L490 630.6L497 635.5L501 636.9L506 635.3L510 632.7L515 633.2L518 632.7L522 634.1L523.4 632L528 628.4L531 627.9L535 625.5L536.8 626L537.8 629L541 628.6L542.3 627L542.2 625L541 623.6L538 623L537 621.9L536.8 620L538.8 616L545 611.8L555 611.1L559 608.3L573 611.1L574.4 610L574.2 607L576 605L578 604.1L581 604.2L585 602.3L589 603.6L593 603.8L596 606L597.8 606L599.1 603L598 598L601 596L602.4 596L603.4 597L603.8 601L601.5 607L600 608.3L600 609.6L601 609.1L601.4 608L605 606.7L608.6 603L612 601.2L614.1 602L614.6 603L612 607L612 608L613 609.1L614.1 609L617 606.4L623 605.7L625.8 603L627 602.6L629 603.3L633 606.2L635 606.5L635.7 606L636.1 603L637.6 601L637.6 600L636.4 597L636.1 593L633 592.7L632.6 592L633 588.8L635 587.6L639 588.9L642 587L644 586.6L646.8 588L647.3 591L649 591.2L651 590.5L652.8 585L653 582L655.4 576L661.3 573L663.1 571L664.6 567L670 563.5L672 563.1L677 564.1L681.9 560L682.3 556L683.5 554L685 553.1L687 552.9L688.1 552L689 550L688 548.2L685 546.6L680 547.2L679.2 546L679.2 543L680 540.8L683 539.6L691.6 533ZM448.4 619L450.4 619L450.8 620L450 621.7L448.8 621L448.4 619Z"/>
<path fill="#aa5c85" d="M103 44L211.4 44L210 47.6L207.1 51L205.7 54L205 60.8L203 60.9L200 58.1L196 57.3L193.3 55L191 54.3L183 54.9L179.6 57L178.8 58L178 62L175.1 67L174.1 73L172 78.3L164 81.4L158 82.7L153.8 85L152 90.5L148 94.2L145 98.5L142 100.5L139.1 107L137.5 109L136 109.8L132 110.3L129.2 114L125 117L122.7 120L121 125L108 131.2L107 133L108 137L107.7 139L103 145.9L103 44ZM664.7 44L693 44L693 69.2L686 67.9L683.3 65L682.5 62L683.8 57L682 51.7L680 50.6L677 50.4L673 47.2L668 49.2L664 49.1L663.7 48L664.7 44ZM103 147L103 146L106 149.9L111.3 154L112.5 159L114.4 162L114.3 163L112 164.6L111.8 166L112.4 167L116.5 169L118.8 175L117.1 179L115.8 185L118.9 190L117.2 193L117.1 197L115.8 203L115 203.9L112 204.2L111 205L110.1 213L108 217.9L103 220.8L103 147ZM103 248L103 247.3L103.9 249L103 250.3L103 248ZM113.4 541L115 540.4L115.5 542L115 546.6L114 547.7L112.6 543L113.4 541ZM103 545L103 544.1L105.3 545L108.5 549L111.8 551L112 552L111 553.7L107.5 555L108.9 556L113 556.2L115.2 557L115.8 558L114.5 561L115 563.2L124 572.3L129 572L132 573.4L137 572.6L142 573.5L143.2 575L145 580.9L146.9 583L149 584.1L151.9 583L153 578.5L154 578.2L156 581.9L158 582.5L159.5 582L160 579L160.9 578L162 578.5L163.7 581L164 583L163.5 585L164.4 586L171 588.8L174 593.3L176 594.6L188 595.1L195 603.3L200 606.1L204.3 607L205.7 611L211 617.1L217 617.4L220 618.7L227 616.1L232 617.4L236.7 622L238 628.5L239.5 631L248.6 639L252 639.4L252.7 640L254.3 645L255 645.5L258 645.5L259.6 647L103 647L103 545ZM152 595.6L151 596.3L151.2 599L153 602.1L155 602.8L158 600L158.2 598L152 595.6ZM689.9 575L693 574.8L693 647L511.6 647L519 641.6L522 640.8L527 636.5L536 635.4L545 632.5L550 632.6L552.5 630L554 625.3L555 624.8L557 625.5L562 624.1L567 617L574 616.9L578 614.1L581 613.2L583 612.9L587 614L591 612.1L593.1 614L593.8 618L595 618.3L598 616.5L601 616.5L604 617.4L607 616.5L612 616.9L616 615.4L621 617.3L626 615.6L631 615.7L632.4 616L635 618.3L636.7 618L641 614.6L644.1 613L646.7 608L647.1 605L648.1 603L658.7 597L661.4 590L661.8 587L668 581.4L672 579.7L672.9 584L675 585.1L677 585L681 582L685 581.2L687 580.1L688.8 576L689.9 575ZM474.7 631L477 631.2L482 634.8L483.4 640L485 642L491 641.2L499.3 645L501.7 647L398.2 647L398.3 644L400.3 641L398.8 637L399 636L400.2 635L403 635.5L406.2 639L409 640.3L420 632.3L422 631.7L424 633L426.8 637L429 638.6L440 640.4L444 639.8L448 638.2L452 638.9L455 636.9L458.5 636L469 636.4L472 634.4L474.7 631ZM275.9 641L281 641.3L284 643.7L285.6 647L271.9 647L274.2 642L275.9 641ZM388.3 645L390 644.9L391 647L386.6 647L388.3 645Z"/>
<path fill="#b9617f" d="M103 44L210.4 44L208.7 48L203 54.3L197 54.3L192 53.1L184 53.3L182 53.8L178.3 56L177.1 58L176 63L173.4 67L172.2 73L171 74.9L164.3 79L159 79.7L151.9 83L144.6 95L140.7 99L135.6 106L132 107.3L128.1 113L125 115.2L121 120L116 122.4L113 126.2L103 129.2L103 44ZM683 44L693 44L693 67.2L687 65.4L685.9 64L685.6 61L686.5 56L682.3 47L683 44ZM103 577L106 577.6L112 585.5L114 587.1L117 587.7L120 587.6L123 589.5L127 588.9L132 589.8L134.5 589L135 586.3L136 586.4L137 588.2L142 589.1L143.4 591L142.9 596L147.6 604L150.3 606L154.3 612L158.7 616L161 616.7L165 615L167.8 616L168.6 618L168.5 621L169 622.2L170 622.8L179 621.3L190 625.3L197 624.1L201 626.6L206 628.6L208 631.6L209 631.9L211.6 631L214 628.7L216 628L222 628.7L225 626.6L229.2 628L230.1 629L229.9 630L226 636.1L225.5 638L226 639.8L229 641.4L230 641L231 637.6L232.6 636L234 635.3L237 635.5L238.5 637L239 639L237 643L237.2 644L240.6 645L241.4 647L235.5 647L235 645.2L234 644.9L232.9 645L232.1 647L103 647L103 577ZM682 591L684 590.1L685.9 592L685 594.9L684 596.6L683 597L681.7 595L682 591ZM690.1 591L693 590L693 594.9L690 594.8L689.1 594L689.1 592L690.1 591ZM671.9 595L673 594.6L674 595.5L678.1 603L680 602.8L683 599.6L688 601.9L690 601.7L693 599.6L693 647L560.5 647L560 642.5L556 642.2L555.2 644L556 647L531 647L531.3 643L532.3 641L534 639.7L538 638.6L540 638.5L544 640.5L551 641.6L555 641.9L558 640.6L561 641.6L563.3 641L564.6 640L563.6 636L565.1 633L567 631.3L571 631.2L573.5 630L576.8 627L576.9 624L578 623.2L580 623.2L583.7 625L587 628.5L590 628.2L594 625.8L596 626.2L598.6 628L602.2 633L604 634.1L606 634.4L608 634.2L612 631.6L617 631.1L622 626.9L629 628.1L630.2 629L632 632.3L633.5 632L636 629L638 627.8L640 627.8L643 628.8L650 617.8L653 616.7L656 617.7L657 617.5L657.4 616L656.4 614L656.6 613L659.2 612L661.1 609L663 608.3L664 608.4L664.3 609L663 611.1L660.1 613L659.8 615L660.4 616L665 617.1L673 613.2L673.8 611L673.5 609L671 604.2L669 602.4L668.4 601L669 598.4L671.9 595ZM422.7 642L424 641.3L426 641.8L429 644.9L432 646.6L436 646L437.8 647L427.5 647L426 645.7L423 644.7L422.7 642ZM462.5 642L469.6 643L476.8 647L449.8 647L452 644.5L454 644L458 644.5L462.5 642Z"/>
<path fill="#c76678" d="M103 44L208.3 44L206.7 48L202 51.7L197 52.1L190 50.4L183 51.6L177 54.3L175.7 56L174 62.8L169 71.8L163.9 76L150 79.3L148.6 81L146.2 87L141.8 92L140.5 96L138 98.4L133 101.3L131.1 105L128 109.2L125 111.5L121 117.6L119 119.1L115.4 120L110 119.9L108 123L105 124.1L103 124L103 44ZM688.5 44L693 44L693 65.2L690.8 64L688.5 61L689.4 55L687.1 52L686.5 50L688.5 44ZM103 589L103 588.1L105 588.5L109 591.5L112 592.7L112.4 594L110.9 598L112 599.4L114 599.9L119 599.3L123 600.5L127 602.7L130 606.2L136 605L138 605.6L138.7 608L138 609.5L135.9 611L135.7 612L140.8 617L141.4 620L143 620.7L148 619.9L150 620.9L151.2 623L154 625.5L157.2 632L163 638L166.9 644L169 643.8L173 641.6L177 641.8L182 640.5L183.3 639L183.8 635L188 632.6L190 633.9L191 636.2L195 636.1L196.8 638L196.4 640L194.5 643L193.5 647L103 647L103 589ZM190 639.8L189.1 641L190 641.9L190.7 641L190 639.8ZM669.7 627L672 626.3L679 631.7L686.4 635L693 636.7L693 647L654.5 647L657.5 644L658.4 642L657.6 640L655.3 637L655.8 634L658 633.7L663 635.6L663.8 635L665.3 631L669.7 627ZM621 636L623 635.9L627 639.5L629 640L637 637.3L639 637.3L644 640.7L650.3 642L650.8 647L611.8 647L613.4 643L617.7 640L619.6 637L621 636ZM589.4 641L591 640.4L594 642.9L595.3 645L594.8 647L584.8 647L582.7 644L583.3 643L589.4 641ZM576 646L578 645.3L579.5 646L580 647L575.2 647L576 646Z"/>
<path fill="#d56b6f" d="M103 44L154.6 44L147.3 50L144.8 55L144.3 57L144.9 61L141.6 64L140.6 70L138.7 75L139 77.7L140.3 81L140 82L138 83.2L130 83.6L128.3 85L129.6 90L127.1 94L126.2 99L125.2 101L118 103L116.2 101L115.7 97L115 95.9L113 95.7L109.5 98L109.2 100L110 102L114.2 105L117.1 109L116.3 110L111 111.9L110 111.9L108 110.3L106 107.2L103 107.9L103 44ZM115 76L115.5 79L114.8 80L112 81.2L111 84L113 90L116 91.5L117 91L117.2 90L115.7 85L117.7 78L117 75.8L116 75.3L115 76ZM165.6 44L175.4 44L173 46.3L170 46.8L167.7 52L164 52.6L162 54.2L160.4 53L160 51L163 50.2L164 49.2L165.5 47L165.6 44ZM690.6 44L693 44L693 61.8L691 60.4L690.4 59L691.3 53L690.2 49L690.6 44ZM145.1 69L147 69L148 70.4L147 71.1L146 70.7L145.1 69ZM110.8 605L119 604.9L124 607.3L125.4 609L125.5 612L126.4 615L126 620.2L128 621.2L133 620.5L136.4 623L137.5 626L135.9 631L136.2 635L137 636.2L140 637.7L140.9 639L141.7 643L141.3 647L103 647L103 606.8L104.5 608L106 610.8L107 610.8L109 606L110.8 605ZM146.8 641L148 640.4L149.1 641L148 642.9L147 643.3L146.2 642L146.8 641ZM682 641L685 640.1L689 641.5L693 641.3L693 647L664.1 647L671 643.4L672 643.3L675 645.3L676 644.8L678 642L682 641ZM635.2 644L636 643.5L638 643.8L640 647L633.4 647L635.2 644Z"/>
<path fill="#e17363" d="M103 44L143.7 44L143.2 47L141.3 50L140.4 54L139 57L134.2 61L134.2 65L133 67.1L129 67.6L126 68.9L121 66.6L119 66.3L115 69.3L113 69.5L110 68.5L106.1 72L103 73.3L103 44ZM692.6 44L693 44L693 50.1L691.8 48L692.6 44ZM692.9 55L693 59.7L691.9 58L692.9 55ZM110.6 620L113.2 620L120.3 624L122.3 626L122.4 631L124.9 636L124.6 642L125.8 645L125.2 647L121 646.3L119.9 647L103 647L103 625.5L109.4 624L110.5 623L110.6 620Z"/>
<path fill="#ec7c56" d="M103 44L138.6 44L138 46L135.4 49L135.1 53L134 54.1L128 56L122 54.5L118 56.1L114 55L110.4 59L103 62.6L103 44ZM105.8 629L109 628.5L113.5 632L115 637L114.9 641L116.1 647L103 647L103 629.7L105.8 629Z"/>
<path fill="#f4884b" d=""/>
<path fill="none" stroke="#000" stroke-opacity="0.6" stroke-width="0.4" stroke-linejoin="round" d="M346 67L345 67.6L343.7 70L343.3 72L343.7 75L342 77.6L340 78.3L337 75.9L335.8 76L335.4 77L337.7 80L342 81.6L343 81.7L346 79.4L348 79.2L348.6 81L348.2 82L344.4 84L344.4 85L350 88.5L350.6 90L350 92.5L346 93.5L344.9 97L342.5 100L342.5 102L341.8 103L340 103.1L337 101L330.4 101L329.5 100L331.8 95L332 93L331.1 89L331.6 86L330 83.4L327.6 84L326.7 86L327.2 91L326 92.4L323 93.7L322.6 95L323.8 98L324.2 101L325.3 103L325.6 107L328 108.7L331 109.6L331.7 111L329.4 113L327 113.6L325.8 113L324 110.8L319 110.9L315 113.4L311 113.8L310 114.4L306 119L305 121L305.2 123L307.3 126L307.9 128L307 129.4L301 127.9L296 131L295 130.2L292.2 123L288 117.4L282 117.8L277 113.1L273.8 113L271.8 110L270 108.5L268 107.8L266 108.9L263 113.9L260.4 117L258.9 121L256.5 125L257.1 128L256.9 131L258.5 135L258 136.6L254.7 137L254 138L253 142L250.1 146L248 146.7L244 146.7L239 149.8L237 152L236.5 158L237.2 164L238.7 168L238.6 169L236 172L234.5 175L228.3 180L225.6 183L223 184.7L216 185.2L209 184.7L207 185.4L205 188.2L202.9 190L202.9 191L204.7 194L208.6 196L208.6 199L205 201L202 203.7L197 205.1L196 205.8L194.5 209L194.3 211L196 213L200 212.4L202 214.2L213.7 231L215.1 237L215.4 243L216.7 247L216.2 251L216.6 253L218.5 257L220.9 260L226 262.8L227 264L232 272.9L234 274.6L237.5 276L238.1 277L237.2 280L237.7 283L237 287L239.4 289L241 292.7L243 294.7L245 295.9L248 295.1L249 295.5L251 297.9L253.8 299L254 300L253.8 303L253 304.5L248 306.8L247 308L247 310L248 311.3L248.4 313L247.4 316L243 317.3L242.2 318L241 321.3L234 322.1L232.4 327L228.7 330L228.5 331L230.2 335L229.4 338L225 339.8L224 342L223.9 344L226 346L226.1 348L223.3 352L221.6 357L222.7 359L226 361.4L227.7 364L225.9 369L226 372.2L228 374.9L231 375.3L235 377.8L237.1 381L236.8 385L235 388.6L233 390.8L232.2 393L232.3 401L233.6 404L236 406.4L236.3 408L235 409.5L232 409.5L229.7 412L228.4 415L225 416.2L223 419L220 421L218 424L214 426L213.3 427L215.5 429L216.2 431L214.9 434L217 436L216 436.9L214 436.4L213 436.8L211.2 441L212 442.2L218 441.2L219.4 442L219 443.5L215.7 445L215 446L215.9 450L214 455L214.3 456L217.5 459L217.3 462L218.2 468L223 474L231.1 480L232 482L232.5 486L233.8 488L239 489.6L240.5 491L240.7 492L237.6 495L237.8 497L239.2 498L243 499.1L244.7 499L247 497.6L251 498.1L255 497.8L261 498.1L263 499.9L264.3 502L265.2 510L268 513.7L274 515.8L278 516.1L282 519.2L286.4 519L291 517.8L292 518L293.6 519L294 520L294 523L295 523.8L299 522.2L303 523.8L309 524L310.3 525L312 527.8L314.9 530L314.7 534L316 535.2L319.5 535L322 533L326 533.9L331 531L333 531.6L336 534.1L343 537.2L347 532.4L352 532.4L353.6 533L355 537.1L360 537.8L362 539.1L365 538.8L368 540.4L372 539.7L375 540.9L379 539.3L383 540.2L390 540.6L396 539L397.7 538L398.4 537L399.2 533L401 529.5L407 528.7L409.3 530L409.7 531L406.3 535L407.1 537L410 538L415 534.2L416 534L417 534.6L419.9 538L420.2 543L422 546.4L424.1 548L429 549.4L430.5 551L431.4 553L434 552.3L436 552.4L438 554.6L439 558.7L441 559.4L442.4 559L445 557.1L449.4 557L452 556L450 553.2L450 550.5L456 551L459 552.9L459.8 550L459.2 546L461 546L463 547.5L464 547.5L463.8 543L464.8 541L466 540.2L478 541.2L480 543.7L481 543.6L488 539.4L492 539.1L494 538.2L495.8 536L497 530L498.5 527L501 525.1L505 525.6L506 525.1L505.7 522L508 521.1L509.9 519L510.6 517L508.4 513L509 510.8L513 509.9L515 507.8L516 507.6L519 509.1L522.6 510L525.9 513L527 513L532 507L535 500.9L539 495.8L541 495.1L547 495.4L547.9 487L549 485.1L554.8 484L558 482.2L564.7 480L565.8 477L567 476.1L573.1 475L573.9 474L577 464.8L580 458.1L582.7 456L582.4 451L583.9 446L584.4 437L586.3 434L589 427.1L590 425.9L593 424.4L594.4 423L598 416.7L602 415.8L606.2 412L609 405L612.3 401L611.9 395L613 393.1L614.6 393L617 395.5L618 395.3L620.2 392L624.4 388L624.5 386L621.1 383L620 380.8L618.1 371L620 365.2L625.2 363L627 357.6L632 354L633.2 352L632.9 351L630 349.1L628 347L621.7 348L619 349.5L617.7 349L618 347.4L620 345.8L622.7 342L623.5 338L626 332L626 331L624 328.7L623.3 327L624.3 322L624.1 319L623 317.6L620 316.4L618 313.6L615 311.9L613 311.1L609 311.3L608 310.5L607.7 309L608.2 306L607.5 303L606 301.8L602.7 302L596.1 295L595.8 292L595 290L591 284.8L587.4 275L586.9 271L584 269.5L581.8 265L582.5 261L581.3 258L582 256.8L585 255L587 253L586.2 248L589.1 245L588.7 241L590.3 233L589.9 229L590.3 227L589 224.3L587 223L588 222.5L588 220L586 218.7L583 218.7L582 219.2L580 221.8L579 222.1L575 221.6L573 220.6L569 217L565 210L564.2 205L563.3 203L562 201.9L558 201.6L557 200.8L555.6 198L554.1 192L552.7 190L546 186.1L538 184.6L533 186.3L526 186.1L524.2 188L523 192.7L521 193.4L518 192.3L516.6 191L517.1 186L516 185.7L513 186.7L511 190.7L509 192.1L506 191.9L503 190.1L502 190.1L500 191.7L499.3 194L498.2 195L494 194.6L489 195.7L487.8 195L487 193L487.3 188L488 186.7L489 186.3L490.1 188L491 188.5L493 187.9L494.7 183L494.1 181L493.2 180L491 179.6L488 180.7L481.9 181L480.7 180L479.6 178L475 175.4L473 171.9L471 171.5L468 172.7L466 172.7L464.7 172L463.9 169L462 167.9L458 166.8L453 163.7L451 164.2L448 166.2L446 166.1L445.2 165L445.4 162L444.8 160L442 157.5L438.9 156L437 153.4L436 152.9L432.3 153L430 151.3L426 149.7L423 146.3L421 146.4L418 144.3L416 145.7L415 145.4L413.4 144L413 142L412.3 143L409 144.2L407 142.9L403 138.7L398 143.6L396 144L392 142.9L390.8 143L386 150.8L384.1 153L383.9 158L383 160L377 162.4L375.7 162L374 158.9L368.5 157L366.9 153L364 149.4L363 148.8L362 149.1L359 152.6L353 153.7L350.2 153L348 150L344 148.4L340 149.5L336.5 152L335 152L332.8 151L331.7 149L331.4 147L334.4 139L333.7 135L334.1 134L336.1 133L335.8 130L336.4 129L341.3 130L342.2 131L342.2 134L343 135L346 135.6L349.7 132L350.3 128L351 127.3L353 126.3L357 127.1L358 126.6L359.2 122L366 119.5L368 119.3L369 120.1L375.7 129L380.9 132L383 135.8L384 136.6L388 135.7L391 135.6L392.4 134L393 130.6L396 131.3L399 130.2L400.2 131L402 135.1L403 135.3L405.6 133L406.4 131L406 129L403.8 127L402 124.1L398 126.3L396.6 126L397.9 122L399.6 121L399.8 116L399 115.2L397.4 116L396 118.5L395 119L389.2 119L388 122.6L387 122.9L385.1 122L383 118.3L381 118.8L378 121.9L377 122.2L376 121.4L376 119.9L378.4 117L377 113L377.5 111L379 109.6L382.5 108L381.9 105L382.6 102L381.4 94L380 92.5L377 91.5L375.1 90L376.4 86L376.3 85L375 83.6L373 83L369 83.1L365 84.6L363.5 84L363.2 83L364 82L368 79.4L368.1 78L367.5 77L364 75.2L360 77.8L350 76L352 73.7L352.1 72L349 67.7L346 67M376 74.8L375 75.2L374 76.5L373.4 78L373.6 79L375 78.6L376.6 77L377 76L376 74.8M363.8 89L365 88.1L367 88.5L368.9 90L369.9 92L369 94L365 97.7L363 97.3L362.3 96L363.5 93L363.8 89M344.9 111L346 110.3L347 110.3L347.5 111L347 113.4L346 114.1L345 113L344.9 111M344.1 117L346 116.4L346.1 118L341 122.4L340 122.7L339.1 122L338.3 119L339 117.3L343 117.6L344.1 117M318.8 121L320 120.1L321.1 122L320.1 125L319 125.6L318.1 125L317.8 124L318.8 121M437 120.9L436.3 122L437 122.6L438.1 122L437 120.9M415 127L413.8 128L414.4 129L416 129.3L416.5 129L416.4 128L415 127M422 128.9L420.4 130L420 132.9L417.7 134L418.4 135L422 137L423 137.1L423.8 136L424.1 134L423.6 130L423 129.1L422 128.9M311.9 135L313 135.2L315 138L316.8 139L316 139.6L314 138.4L311 137.9L310.1 137L310.5 136L311.9 135M338 135L337.4 137L338 137.6L339 137.5L340.2 136L340 135.5L338 135M426 138L424.8 139L424.8 140L426 141.4L427 141.3L428 140.6L428.3 139L427.6 138L426 138M434 138.9L432.4 140L431.9 141L433 142.4L435 142.2L436.7 141L437 140L436 139.1L434 138.9M454 141.1L453 142.7L452.2 146L452.4 147L454 147.4L456 146.9L457.7 145L457.6 144L456 141.8L454 141.1M433 145.9L431.2 147L431.1 148L432 148.8L433 148.8L434.6 147L434.3 146L433 145.9M447 148.8L446 149L445.7 150L447.8 149L447 148.8M254.5 293L256 293L257.8 295L257 297.5L255 298.5L254.3 298L254 295L254.5 293M286.2 506L287 505.3L288.9 506L289 508.4L288 509.2L286.9 509L286 508L286.2 506M310.9 520L312 519.6L312.6 520L314.6 523L316.2 524L316.2 525L315 526.4L314 526.9L313 526.2L312 524.5L310.3 523L310 522L310.9 520M436.3 543L438 542.2L439 542.4L441.2 544L441.7 545L440 545.9L437.7 546L436.1 545L435.8 544L436.3 543M459 553L456.8 556L457.2 557L458 557.4L460.4 557L462 555L461 553.7L459 553M304.9 44L304.8 46L304 48L297 51.8L283 50.9L276 49.4L273 49.9L268 47.3L267 47.7L264.3 51L260 51.6L258.1 53L257 57L254 61L254.3 63L250 62.4L248 62.6L245.1 64L243 66.2L240 66.8L236 66L232.3 63L229.8 62L228.7 63L229.6 66L228 67.9L225 68.5L222 68.2L218.7 70L217.8 71L217.4 73L219.6 76L219.6 78L217.5 81L213.8 84L212.6 86L210.9 91L210.4 96L209 101L208.8 107L206.9 111L207 112.1L208 112.9L212 113.3L213 114L213.3 115L212.6 116L210 116.7L207 120L206 120.5L204 119.6L203 119.9L202.1 122L202.2 124L202.9 125L207 126.9L208 128L208 129.2L206.5 132L206.7 134L203 135L199.7 140L198 140.3L195 138.7L192.9 140L190.6 143L190.2 148L187.6 150L185 154.9L184 155.4L181 155.2L178 157.9L176 158.5L174.6 158L173 155.8L171 155.8L170.1 157L171.5 160L171.7 162L168.9 165L168.7 167L171.4 171L175 172.6L176.4 174L176.4 175L173.2 178L173.6 180L176 181.9L179 181.8L179.3 183L178 184.2L175 184.1L172 186.3L170 186.3L168.7 187L168.9 188L170.6 190L170.9 194L172.5 198L170.8 205L167.6 208L165.1 214L164.4 217L164.5 221L166.4 226L167 227.2L170 229.4L171.1 231L173.1 240L172 241.1L164 242L162 243.4L158.9 247L160.9 254L162 255.7L166 257.9L170 257.6L172 260.9L173 261.9L176 263.1L177 264.4L177 266.1L173 268L171.9 270L174.3 274L175.1 278L177 283L180.6 287L181.8 295L177.9 302L173 305.5L169.4 307L169.7 311L166.8 315L167.5 317L169.2 318L169.1 319L167 319.4L164 320.9L162.9 322L162.8 326L165.9 332L163 337.7L159.9 341L159.8 345L158.9 348L159 349L162.5 351L162.8 355L162.4 357L161 357.6L159 357.5L154.9 360L151 365.5L149.9 368L147 371L144 376L142 376.5L138 374.8L133.4 377L132.7 379L132.5 384L130 386.6L126 387.5L125.8 390L124.6 393L128.3 402L132.9 406L134.7 410L136 410L137.7 408L139 407.5L140 407.9L143.9 412L145.5 416L143.7 420L143.9 421L148 422.6L149 423.7L152 431.7L153 432.7L154 432.8L156 431.6L157 431.6L158.4 433L158.8 435L155.3 436L154.7 437L155 438L156 438.5L157 438.3L159 436.2L160 436.2L161.5 438L162.7 442L160 445.1L158.5 448L159 448.9L162 449.3L163.4 451L163.6 453L162.6 461L166.2 472L170 473.8L175 478.6L176.2 481L176.5 485L177 486.1L179 486.3L180.8 484L182 483.7L185 484.5L186.6 486L187.4 489L187 489.8L185 489.9L183.1 491L183.6 493L186.4 496L187.8 499L185 507L184 507.6L183 507.4L180 503.3L179 503.1L177.7 505L177.5 507L182 509.5L188 510.8L191 508.9L193 508.8L202 514L203 516L202.7 517L200 518.9L199 518.8L198 517.3L197 517.2L195.8 519L196.3 520L198.6 521L198.2 524L199 527.6L200 528.1L203 527.7L205.2 529L206.9 531L207.4 532L207.2 535L209.5 539L210 542.4L211 542.5L212.6 539L215 536.8L217 537L219.1 538L219.8 539L217 541.3L215.1 544L214.7 547L215.3 549L217 550.5L218.2 553L220 554.8L221 555.2L224 554.7L226.2 556L226.7 559L229 562L228.8 566L229.7 567L232 567.1L236 566.1L240 566.8L241 567.5L241.7 569L241.1 572L244.5 576L244.2 581L245 583L247 583.8L250 584.2L254 587L258 586.7L260 589L263 589.7L268 587.2L270 584.9L274 585L276.1 582L280.8 579L282.4 576L289 573.4L295 573.3L298 574.6L299.6 577L299.3 581L296.4 584L298.3 587L299.3 591L301.9 595L306 598L308 598.3L309.2 596L313 594.1L314.7 591L317 590.4L323 592.8L323.4 594L323 594.7L320 593.6L314 594.9L313.6 596L313.8 598L315 599L321 599L322.6 598L324 595.5L326 595.1L331.6 591L337 588.3L341 588.8L342.6 591L344 591.8L349 590.4L353 591L355 590.2L357.6 588L360 586.9L365 585.1L368 584.7L369.6 585L372 586.4L376 586.4L377 587L379 590L381 590.6L386 589.5L392 590L394 589.1L396 587.2L399.1 581L407 577.6L409 578.8L410 581.4L411 582.4L415 582.5L415.9 583L416.8 585L419 585.7L423 582L424.3 578L425.8 577L428 576.6L431.8 577L435 580.9L436 581.3L443 579.6L446 582.2L453 583.1L455 582.5L457 581L460 580.5L471 584.1L473 584.2L478.4 583L481 580.5L484.4 584L486 588.3L489 590.8L489.9 593L494 598.7L499 599.4L502 601.7L503 601.8L506 599.8L507 600L510 601.5L514.4 605L517 605.6L523 601.3L528 599.1L532 598L533.2 596L534.2 591L537 587.8L539 586.6L543 585.7L544 586L544.6 589L545.4 590L548 590.3L551.4 587L550.2 585L550 583L551 582.1L552 582L555 584.2L558 584.7L561 586.2L562 586L563.7 584L565 581L569 579L573 569L578 570.7L580 573L582 572.4L582.4 571L581.6 569L581 564L582.2 560L582 555L578.1 551L577.4 549L579.3 547L579.4 544L580.5 541L579 538L579.2 532L580 530.4L581 529.3L582 529.1L584.1 531L585.7 538L581.9 540L583 541L585 541.3L586 540.9L586.9 538L589.4 536L592.3 530L593.9 529L596 528.5L601 531.1L603 530.9L604.3 530L604.1 526L604.7 524L603.8 523L603.7 521L605.4 517L605.6 515L603.1 512L603.1 511L605.6 508L607.7 503L606.6 501L606.9 499L609 498.2L610.5 499L610.8 500L610.2 501L608.2 503L609.9 504L611 504L613.8 501L619.5 498L619.7 497L619 496.1L616 494.7L614.7 493L615 489.4L617 487.9L620 488.7L626 492.8L627 493L628.8 492L631 489.7L631.5 488L631 484L629.2 481L629.3 479L630 477.5L634 474L638.4 472L639.6 470L641.2 469L643 468.7L647 470.2L649 470.1L658 465.3L659 465.5L662 468.8L664 468.7L671 460.4L674 459.9L676 460.9L678.3 460L679.7 458L680.1 455L684.2 448L684 446.4L680 444.6L677 444.6L674 445.6L668 443.6L665.7 444L663 445.5L662 445.3L662 442.6L663.7 437L665 435.3L671 431.7L673 431.1L681 429.7L682 429.9L685 432.5L688.4 430L692 424.1L693 423.4M627.2 95L628.4 95L629.9 97L628 97.6L627 97.3L626.5 96L627.2 95M663 145.2L662.7 147L663.4 148L665 149.9L666 149.4L665 146.7L663 145.2M181 146.8L179.2 148L178.4 150L179 152L181 153.5L182 153.3L183 152.4L183.7 150L183 147.4L181 146.8M663 153.8L662.7 154L664.5 154L664 153.3L663 153.8M673 180L675.4 182L675.7 185L676.3 186L678 186.4L679.1 186L679.7 185L679.5 184L676 180.1L674 179.6L673 180M669.5 227L670 226.1L671 226.2L671.2 227L670 228L669.5 227M693 228.9L691 228.3L690.3 227L690.3 222L689 219.7L688 219L684 218.2L680.4 215L679.4 212L677.7 210L676.9 208L677.9 202L676 200.6L672 199.8L670 197L667 196.2L665.7 195L664.3 191L665 186L660.1 178L657 176.4L655.8 175L655.7 173L656.6 172L660 173L661 172.8L661.5 172L660.5 166L662.3 162L659.8 158L660.7 155L659.8 152L660.6 149L660.3 148L656 146.3L654.7 143L656 141L657 141L659 141.9L662 144.3L662.3 144L662.4 142L661.1 139L662.7 133L662.5 128L661.3 126L658 123.5L654 123.8L649 123.4L645 124.3L642 122.8L637.7 123L637.6 122L639.4 120L638.2 115L632 112.1L630.3 109L632.3 105L632.3 104L631 98.3L630.1 97L633 94.3L634 92L633 90.4L629 89L629 88L632.6 80L632.6 78L631.5 77L628.3 76L627.6 75L627.3 72L628.9 68L627 67.2L623 67.6L621.5 67L621 66.2L622 62L618.3 58L617.4 56L617.7 54L617 51L618.4 47L618.2 46L615.8 44M179 239L180 238.9L182.2 243L181.1 251L178 254.2L170 256.6L169.7 254L170.3 252L174 247.1L175.7 242L179 239M693 256.6L686 254.2L682 254L681 253.5L679 249.7L676 248.6L674.7 246L676 245.1L677 245.5L678.6 247L679 248.3L680 248.6L681.7 242L678 239.2L673 237.9L671.1 236L671.3 235L672 234.6L676 234L677.9 233L678.7 232L678.1 229L679 228.5L682 234.4L684 236.6L686.5 236L686.1 233L687 231.8L688 231.5L689 231.8L691.4 235L693 235.8M671.9 258L673.1 259L673 260.1L671.3 259L671.9 258M688 265.6L684.9 269L684.5 270L685 271.1L687 270.4L689.1 268L689.2 266L688 265.6M693 274.3L691.3 275L690.4 276L691 277L693 276.9M693 285.4L691 285.8L687 284.9L683.4 281L682.7 279L683.4 275L683.2 273L677.1 268L677.5 265L676.7 262L678 261.5L680 261.9L682 265.8L683 265.8L686 263.9L693 264M686.1 289L687 288.2L688 288.2L688.8 289L687 290.2L685.8 290L686.1 289M693 320.4L692 319.7L691.3 318L692 316.4L693 315.9M162.7 344L163.2 344L163 345.1L162.7 344M133.1 397L134 396.2L135 396.2L136 397.2L136 399L134 401L133 400.8L132.5 400L133.1 397M684 433.6L679.2 437L678.8 438L682 439.8L683 439L685.5 435L685 433.8L684 433.6M685 441.9L684.5 442L684.7 443L686 443L685 441.9M187.2 490L188 489.7L189 490.5L189.5 492L189 492.7L187.2 490M632 497.8L629.8 499L629.5 500L630 500.9L635 501.3L635.6 500L635 498.3L632 497.8M622 503.7L620.9 505L620.4 507L622.2 510L622 513L622.6 514L626 516.2L628 516L631.2 512L631.9 509L627 504.3L624 503.1L622 503.7M170 508L170 509.6L171 509.6L172.4 508L171 507.2L170 508M205.6 512L206 511.5L206.8 512L207 513.1L206 513L205.6 512M205.6 517L208 516.3L209 517.5L209.9 521L209 522.8L207 522.5L205.6 521L204.8 519L205.6 517M191 517.6L190.5 518L191 519L191.6 518L191 517.6M571 545L572 544.7L573 545.3L574.9 548L573 548.9L570 549.4L569.6 548L571 545M215 553.2L214.2 555L215 555.4L216.1 555L216.6 554L216 553.3L215 553.2M541.7 571L542 570.5L543 570.7L547.9 572L553.8 576L554 577.3L553 578.2L550 578.8L549.7 581L549 581.9L546 581.7L544.1 580L543 577.4L540.9 575L541.7 571M213.3 44L211.7 48L208.7 52L208.2 54L208.7 56L212 60L212.4 62L211.8 64L209 65.8L205 69.9L203 70.7L201 69.7L197 64.2L193 61.2L190 57.8L189 57.5L182 59.5L181.1 63L178.8 67L177.4 73L177.3 77L176.5 79L173 83.2L169.7 84L164.9 88L164 90L163.8 95L163 96.4L162 97.1L157 97.7L151 97L150.1 98L149.7 101L146.5 104L144 109.2L130.9 117L128.6 120L128.4 123L124.2 128L121 131.5L116.1 134L112.9 138L112 145L112.3 147L115 148.7L119 148.5L121 149.5L124 154.8L125.2 158L128.8 162L128.6 166L129.8 168L134 169.2L137 168.9L138.5 170L138.9 175L142 177.9L142.2 179L142 180L139.2 183L138.9 184L142.4 191L142.3 196L139.3 201L138 211L137 213.6L135.1 215L132 216.1L130 219.8L128 220.5L122.8 225L121.1 228L123 237L122.8 242L121.2 249L121.4 251L122 252.3L127.1 255L126.1 256L124 256.2L120.6 255L120.1 256L120.5 258L120.9 259L122.2 260L129 262.1L130.1 263L132.5 267L133 269L133.1 273L130.8 277L131 278.3L133 279.1L134 280.5L133.4 286L132 288.5L123 297L123.3 299L124.8 302L123.2 306L120 311.4L117 313.7L114 317.3L108 318.3L104.6 322L103 323M693 77.6L690 75.3L687 74.1L683.9 72L681.5 69L678.8 67L677 62.9L676 62.1L672 62.7L669 62.5L666 61.5L662 59.2L658 58.7L656.5 58L656 57L655.8 52L657.8 44M103 329L106.7 332L107.8 335L107 336.6L106 337.1L103 334.6M103 369L104 370.2L104.3 372L104.1 374L103 375.9M103 455.1L105 455.5L108 458L116.7 462L121.6 470L123 471.4L128 471.4L133.2 473L134.2 474L136.8 479L136.4 486L138.7 490L136.7 496L135 498.1L121 504.7L119.6 507L118.8 510L119.3 512L122.7 518L122.9 523L124.3 527L126.2 530L127.2 533L133 540.9L138 539.9L142 540.7L143.1 542L144 545L148 547.6L150 547.7L154 546.5L155 547.9L154.6 551L155.2 553L159.2 559L161.6 561L164 561.2L167 559.8L170 561.6L173 561.9L183 565.8L191 565.4L194 566.3L195.9 568L197.3 571L198.1 576L199.4 579L199.5 580L197.4 583L198 585.9L199 587.4L201.9 589L203.7 591L211 596.4L217 598.4L225 602.2L227 602.5L230.4 601L234 596.7L235 596.3L237 596.7L241.3 599L244 601.9L248.9 603L249.9 607L252 611.6L262.8 617L266.6 620L270 626.6L271 627L274 625.3L278 624.9L282 623.5L284 624.6L286 628.1L289 629.1L292 630.9L297 630L299 630.5L300.5 632L300.3 636L300.8 639L298.3 645L298.1 647M306.6 647L307.5 646L309 645.4L310.7 646L311.4 647M326.2 647L327.1 643L326 639L326.7 637L330 634.4L333 633.3L337 629.3L340 627.4L345 627.3L349 626.2L353 628.4L359 629.9L362 633.1L368 632.8L371.7 631L374 628.6L378 627.2L382 624.7L385 624.5L391 625.6L394 624.7L396 622.7L397 622.4L400 622.6L403 621.9L407 623.2L409 622.8L413.8 619L418 614.6L419 610.2L421 609.2L425 609L427 609.7L429.6 615L433 617.5L439 617.1L441 616.6L445 612.8L447 612.4L450 613L451.5 611L453 606L454 605.6L455.1 609L458.5 612L459.4 616L464 620.8L468 621.9L471 620.6L476 622.8L483 623.7L488 625.9L494 626.8L497 629.9L502 629.2L505 629.5L511 628.2L515.2 625L519 623.6L522 622.9L527 622.8L529.2 622L532 618L532.6 612L535.1 605L536 603.9L539 602.3L541 602.3L543 603.9L545 604.7L547.5 604L550 600.4L552 600.9L556 603.2L558 603.5L560 603.4L563 601.5L567 602.4L570 601.6L573 601.6L576 600L580 599.5L587.9 597L594 596.6L600 592.6L602 591.9L604 592.2L608 594.8L609.3 595L610.3 594L611 590.7L614 588.2L616 585.6L620 585.7L623 584.8L628 584.5L636 581.6L637.8 579L637.6 575L640.1 569L641 565L646.4 561L647.1 559L647 556L650 551.5L652 550.3L659 549.2L663 549.9L670 548.6L671.4 547L670.4 544L670.6 542L675 536L680 533L684.2 529L684.8 525L687 520L688 519.6L690 520L693 522.3M208.3 44L206.7 48L204 50.6L202 51.7L197 52.1L190 50.4L183 51.6L177 54.3L175.7 56L174 62.8L171.2 67L169 71.8L163.9 76L150 79.3L148.6 81L146.2 87L141.8 92L140.5 96L138 98.4L135 99.7L133 101.3L131.1 105L128 109.2L125 111.5L121 117.6L119 119.1L115.4 120L110 119.9L107 123.7L103 124M693 65.2L690.8 64L688.5 61L689.4 55L689 53.9L687.1 52L686.5 50L688.5 44M103 588.1L105.9 589L108.2 591L112.3 593L112.4 594L110.9 598L112 599.4L114 599.9L119 599.3L123 600.5L127 602.7L130 606.2L136 605L138 605.6L138.7 608L138 609.5L135.9 611L135.7 612L140.8 617L141.4 620L143 620.7L148 619.9L150 620.9L151.2 623L154 625.5L157.2 632L163 638L165.8 643L166.9 644L169 643.8L173 641.6L177 641.8L182 640.5L183.3 639L183.8 635L186.5 633L188 632.6L190 633.9L191 636.2L195 636.1L196.4 637L196.8 638L196.4 640L194.5 643L193.5 647M190 639.8L189.1 641L190 641.9L190.7 641L190 639.8M575.2 647L576 646L578 645.3L579.5 646L580 647M584.8 647L582.7 644L583.3 643L591 640.4L595 644L595.3 645L594.8 647M611.8 647L613.4 643L617.7 640L619.6 637L622 635.8L624 636.6L626 638.8L628 639.9L630 639.8L637 637.3L639 637.3L644 640.7L650.3 642L650.8 647M654.5 647L655 646L657.5 644L658.4 642L657.6 640L655.3 637L655.1 636L655.8 634L658 633.7L663 635.6L663.8 635L665.3 631L668.4 628L671 626.4L673 626.8L675 628.9L679 631.7L682 632.6L686.4 635L693 636.7"/>
<polygon points="397.7,175.3 409.2,179.2 420.7,179.2 428.3,182.0 439.8,178.2 449.4,182.0 457.0,188.7 466.6,192.6 474.3,196.4 485.8,194.5 497.7,195.0 501.1,206.0 504.9,212.7 512.6,208.9 524.1,210.8 528.3,211.1 536.0,213.9 537.9,220.7 545.6,218.7 553.2,218.7 560.9,224.5 564.7,231.2 562.8,236.0 561.8,247.5 565.7,255.1 568.5,266.6 572.4,278.1 566.6,283.9 566.6,293.4 562.8,300.2 570.5,306.9 578.1,310.7 583.9,318.4 585.1,320.0 594.7,323.8 596.6,331.5 599.5,337.2 594.7,341.1 593.8,358.3 596.6,364.1 606.2,366.0 609.1,373.6 604.3,377.5 598.5,377.5 600.5,385.1 596.6,392.8 590.9,398.5 585.1,406.2 583.2,412.0 587.0,419.6 585.1,425.4 577.5,427.3 571.7,434.9 566.0,438.8 563.1,450.3 560.2,457.9 550.7,463.7 548.4,467.0 550.3,474.7 542.6,482.4 536.9,488.1 527.3,493.9 519.6,496.7 510.0,499.6 507.2,495.8 504.3,500.6 496.6,498.7 487.0,501.5 477.5,505.4 467.9,504.4 458.3,502.5 448.7,498.7 439.2,500.6 429.6,500.6 423.8,497.7 422.9,488.1 425.7,482.4 431.5,478.5 434.4,470.9 436.3,461.3 431.5,449.8 430.3,448.9 414.9,452.0 395.8,452.8 376.6,449.5 359.4,444.3 357.5,442.8 346.0,439.9 338.3,443.8 328.7,442.8 319.2,437.0 309.6,435.1 300.0,427.5 293.9,424.5 286.2,428.4 284.3,418.8 280.5,411.1 276.6,401.5 274.7,392.0 278.5,384.3 276.6,372.8 274.7,363.2 269.0,370.9 263.2,367.0 259.4,376.6 251.7,375.7 247.9,370.9 246.9,361.3 251.7,359.4 251.7,344.1 257.5,334.5 263.2,326.8 259.4,319.2 254.0,315.3 257.0,312.2 262.8,306.4 257.0,302.6 251.3,304.5 251.3,298.8 241.7,299.7 237.9,294.9 231.2,291.1 230.2,285.4 239.8,283.4 236.0,277.7 234.1,270.0 222.6,275.8 214.9,272.0 218.7,264.3 211.1,256.6 206.3,247.0 209.2,237.5 207.2,223.1 210.1,227.9 214.9,237.5 220.7,245.1 228.3,250.9 239.8,253.8 245.6,258.5 255.1,262.4 266.6,268.1 274.3,272.0 282.0,277.7 289.6,283.4 301.1,278.7 314.5,277.0 323.0,270.5 326.0,265.8 333.6,258.1 339.4,252.4 343.2,246.6 347.0,237.0 346.1,227.5 351.8,219.8 352.8,208.3 360.5,202.6 366.2,193.0 372.0,185.3 379.6,181.5 387.3,183.4 393.0,179.5" fill="url(#ig)"/>
<defs><filter id="bl" x="-0.2" y="-0.2" width="1.4" height="1.4"><feGaussianBlur stdDeviation="7"/></filter><filter id="bs" x="-0.2" y="-0.2" width="1.4" height="1.4"><feGaussianBlur stdDeviation="1.6"/></filter><clipPath id="icec"><polygon points="397.7,175.3 409.2,179.2 420.7,179.2 428.3,182.0 439.8,178.2 449.4,182.0 457.0,188.7 466.6,192.6 474.3,196.4 485.8,194.5 497.7,195.0 501.1,206.0 504.9,212.7 512.6,208.9 524.1,210.8 528.3,211.1 536.0,213.9 537.9,220.7 545.6,218.7 553.2,218.7 560.9,224.5 564.7,231.2 562.8,236.0 561.8,247.5 565.7,255.1 568.5,266.6 572.4,278.1 566.6,283.9 566.6,293.4 562.8,300.2 570.5,306.9 578.1,310.7 583.9,318.4 585.1,320.0 594.7,323.8 596.6,331.5 599.5,337.2 594.7,341.1 593.8,358.3 596.6,364.1 606.2,366.0 609.1,373.6 604.3,377.5 598.5,377.5 600.5,385.1 596.6,392.8 590.9,398.5 585.1,406.2 583.2,412.0 587.0,419.6 585.1,425.4 577.5,427.3 571.7,434.9 566.0,438.8 563.1,450.3 560.2,457.9 550.7,463.7 548.4,467.0 550.3,474.7 542.6,482.4 536.9,488.1 527.3,493.9 519.6,496.7 510.0,499.6 507.2,495.8 504.3,500.6 496.6,498.7 487.0,501.5 477.5,505.4 467.9,504.4 458.3,502.5 448.7,498.7 439.2,500.6 429.6,500.6 423.8,497.7 422.9,488.1 425.7,482.4 431.5,478.5 434.4,470.9 436.3,461.3 431.5,449.8 430.3,448.9 414.9,452.0 395.8,452.8 376.6,449.5 359.4,444.3 357.5,442.8 346.0,439.9 338.3,443.8 328.7,442.8 319.2,437.0 309.6,435.1 300.0,427.5 293.9,424.5 286.2,428.4 284.3,418.8 280.5,411.1 276.6,401.5 274.7,392.0 278.5,384.3 276.6,372.8 274.7,363.2 269.0,370.9 263.2,367.0 259.4,376.6 251.7,375.7 247.9,370.9 246.9,361.3 251.7,359.4 251.7,344.1 257.5,334.5 263.2,326.8 259.4,319.2 254.0,315.3 257.0,312.2 262.8,306.4 257.0,302.6 251.3,304.5 251.3,298.8 241.7,299.7 237.9,294.9 231.2,291.1 230.2,285.4 239.8,283.4 236.0,277.7 234.1,270.0 222.6,275.8 214.9,272.0 218.7,264.3 211.1,256.6 206.3,247.0 209.2,237.5 207.2,223.1 210.1,227.9 214.9,237.5 220.7,245.1 228.3,250.9 239.8,253.8 245.6,258.5 255.1,262.4 266.6,268.1 274.3,272.0 282.0,277.7 289.6,283.4 301.1,278.7 314.5,277.0 323.0,270.5 326.0,265.8 333.6,258.1 339.4,252.4 343.2,246.6 347.0,237.0 346.1,227.5 351.8,219.8 352.8,208.3 360.5,202.6 366.2,193.0 372.0,185.3 379.6,181.5 387.3,183.4 393.0,179.5"/></clipPath><linearGradient id="rossg" x1="0" y1="0" x2="0" y2="1"><stop offset="0" stop-color="#e3effa"/><stop offset="0.35" stop-color="#a6cbe8"/><stop offset="0.7" stop-color="#5c9dd0"/><stop offset="1" stop-color="#3a80bb"/></linearGradient></defs>
<g clip-path="url(#icec)"><g filter="url(#bl)" opacity="0.9"><ellipse cx="330" cy="370" rx="60" ry="45" fill="#e2e8f2"/><ellipse cx="385" cy="395" rx="40" ry="30" fill="#dfe5f0"/><ellipse cx="420" cy="300" rx="70" ry="60" fill="#ebeff7"/><ellipse cx="300" cy="300" rx="40" ry="30" fill="#e6ecf6"/><ellipse cx="500" cy="400" rx="60" ry="50" fill="#f6f8fc"/><ellipse cx="520" cy="270" rx="50" ry="45" fill="#f7f9fd"/><ellipse cx="460" cy="215" rx="40" ry="20" fill="#f8fafd"/></g>
<g filter="url(#bs)" opacity="0.45" stroke="#dbe1ec" stroke-width="3" fill="none"><path d="M392 352L360 395M388 356L372 402M384 350L345 380M396 358L392 400M402 360L410 400"/><path d="M330 330L300 345M340 350L305 372" stroke="#e0e5ef"/><path d="M470 230L500 260M520 300L540 330M455 300L470 330" stroke="#eceff6"/></g>
<polygon points="289.6,283.4 301.1,278.7 314.5,277.0 323.0,270.5 333.6,258.1 339.4,252.4 342.6,249.2 340.0,265.1 350.6,273.0 358.5,267.7 364.8,266.7 355.8,275.7 353.2,288.9 350.6,302.1 345.3,310.0 350.6,315.3 338.4,308.4 334.7,315.3 326.8,317.9 318.9,325.8 313.6,320.6 305.7,328.5 300.4,331.1 297.7,320.6 292.4,315.3 295.1,331.1 289.8,307.3 287.2,294.1 284.5,283.6" fill="#e4eef9"/>
<polygon points="358.5,444.7 355.8,431.5 353.2,418.3 357.5,414.1 357.5,409.3 367.0,411.2 369.9,404.5 369.0,401.6 376.6,396.8 384.3,394.9 386.2,389.2 382.4,383.4 381.4,381.5 390.0,389.2 399.6,393.9 409.2,398.7 416.9,405.4 422.6,411.2 426.4,417.9 425.5,423.6 428.4,431.3 424.5,436.1 420.7,437.0 422.6,440.9 419.7,446.6 422.6,448.5 427.4,443.8 432.2,450.5 430.3,448.9 414.9,452.0 395.8,452.8 376.6,449.5 359.4,444.3" fill="#e6f0fa"/>
<polygon points="207.2,223.1 210.1,227.9 214.9,237.5 220.7,245.1 228.3,250.9 239.8,253.8 245.6,258.5 255.1,262.4 266.6,268.1 274.3,272.0 282.0,277.7 289.6,283.4 284.5,283.6 279.2,278.3 263.4,267.7 255.1,266.2 249.4,264.3 243.6,265.2 236.0,262.4 234.1,266.2 228.3,268.1 224.5,264.3 220.7,260.5 218.7,252.8 214.9,247.0 213.0,237.5 209.2,229.8" fill="#e2edf8"/>
<polygon points="212,232 216,239 221.5,245.5 229,251 226,252.5 219,248 214.5,241.5" fill="#b9d6ee"/>
</g>
<path d="M358.8 444.6L361.0 436.5L376.0 438.5L395.0 441.5L410.0 442.5L421.0 441.0L431.0 449.3L414.9 453.0L395.8 453.8L376.6 450.5Z" fill="url(#rossg)"/>
<path d="M313.0 277.6L318.0 275.5L323.0 270.5L333.6 258.1L339.4 252.4L343.2 246.6L346.5 238.5L349.2 240.5L347.0 249.5L342.5 257.5L337.0 265.0L330.0 273.0L323.0 279.5L317.0 281.0Z" fill="#9fc6e6"/>
<path d="M317.0 281.0L323.0 279.5L330.0 273.0L337.0 265.0L342.5 257.5L345.5 260.5L340.0 268.5L333.0 277.0L326.0 283.0L319.0 284.5Z" fill="#c9e0f3"/>
<polygon points="594,322 598.5,323.5 600,331 599.5,337.5 596.5,339 597,331.5" fill="#b5d5ec"/>
<polygon points="598.5,365.5 606.2,366 609.1,373.6 604.3,377.8 598.8,377.8 601.5,372" fill="#b5d5ec"/><polygon points="599.5,367 604.5,367.5 605.5,372 601,374" fill="#eaf3fb"/>
<polygon points="266,391 277.5,381.5 279.3,383.4 267.5,392.6" fill="#a9cde9"/>
<polygon points="539.3,485.6 541,484.3 549,492 547.4,493.4" fill="#a9cde9"/>
<polygon points="253,312 257,311.5 259,315.5 255,317" fill="#c7dff2"/><polygon points="236,284.5 241,283.6 242,287 237,288.5" fill="#cfe3f4"/><polygon points="242,299.5 251.3,298.8 251.3,304.5 246,303" fill="#d7e8f6"/>
<polygon points="347,237 346.1,227.5 351.8,219.8 352.8,208.3 356,206 355.5,214 353.5,222 350.5,229 350,236" fill="#dcebf8"/>
<path d="M343.9 247.8L342.6 245.4L345.8 242.6L345.8 241.5L346.7 240.7L347.4 237.8L345.7 234.7L346.9 234.2L346.2 232.0L349.4 229.5L348.2 227.5L349.1 226.1L350.4 223.8L351.4 222.2L351.6 218.8L352.3 218.5L353.2 215.2L352.8 214.5L353.9 209.0L354.0 209.5L356.0 208.4L359.0 206.0L359.9 205.3L360.7 204.1L362.1 202.1L363.8 199.3L366.0 197.7L365.4 196.7L366.6 195.0L368.9 192.3L368.7 190.5L370.5 188.8L372.8 187.7L374.4 185.0L376.0 183.8L378.4 183.9L377.6 182.0L382.8 183.0L383.4 184.1L385.0 184.9L388.5 183.3L390.7 183.6L391.6 180.3L392.8 180.8L395.3 177.6L396.9 176.4L400.0 177.6L401.5 177.5L403.2 177.9L406.0 178.9L407.1 180.3L408.6 180.6L412.0 180.6L414.2 181.4L415.8 180.0L417.5 180.2L420.6 180.2L420.5 182.2L425.1 182.9L427.0 183.9L427.4 183.1L430.8 182.3L432.1 182.4L435.6 180.7L435.4 181.0L438.4 180.2L441.8 179.7L444.2 181.0L443.6 181.8L447.0 184.1L449.6 185.7L450.5 185.0L453.9 186.6L453.4 186.2L456.2 189.7L457.0 190.6L461.0 190.5L462.0 192.9L463.7 191.8L464.7 193.7L469.4 195.0L470.6 194.9L472.6 197.5L474.9 198.4L476.5 196.1L477.9 195.7L479.9 197.0L482.1 196.1L486.0 194.8L486.0 195.6L488.9 195.8L491.3 195.8L493.9 196.7L496.4 196.4L496.3 198.8L496.6 200.6L498.6 202.1L500.2 204.6L500.5 206.9L500.9 208.4L501.5 208.8L503.1 212.4L503.7 213.7L506.5 214.2L507.2 212.0L509.9 211.3L511.7 210.3L514.4 211.7L516.3 210.8L520.4 210.8L521.7 211.6L523.9 211.4L523.3 212.1L526.8 212.1L528.7 213.0L531.7 215.1L531.5 214.0L536.1 215.3L536.6 217.3L535.2 220.1L536.2 220.7L538.4 220.5L541.2 220.5L543.9 220.4L547.2 219.6L547.6 219.2L550.6 218.9L552.3 220.0L555.3 222.1L556.3 222.5L558.5 223.7L558.4 225.3L560.4 225.9L561.0 228.3L563.9 230.3L563.9 232.7L562.3 234.5L561.4 235.6L561.8 239.6L560.7 242.3L560.3 242.9L561.2 245.7L562.6 247.8L561.1 250.2L561.9 250.4L562.4 254.8L563.3 255.1L565.3 258.6L566.1 259.8L566.0 261.6L566.7 263.9L567.1 266.9L567.7 267.6L567.1 270.1L568.7 272.1L569.8 273.2L569.8 277.7L570.9 279.1L570.8 279.5L569.3 281.4L568.2 280.7L565.1 281.8L563.1 283.1L561.7 282.3L559.4 279.6L558.0 278.5L552.9 280.5L553.5 283.5L550.7 283.6L549.0 284.3L547.4 285.5L545.5 284.8L543.3 286.2L540.4 287.2L539.4 287.4L535.7 287.7L533.7 287.3L532.3 288.5L529.0 288.2L530.0 290.8L530.5 292.9L533.6 290.7L534.0 290.0L535.8 291.8L538.4 292.9L541.0 294.0L542.1 294.5L545.1 293.6L546.9 293.6L550.4 295.0L550.8 292.9L554.4 294.4L555.1 293.5L556.8 295.4L558.9 296.5L560.4 297.7L563.2 296.9L565.7 294.0L566.7 293.7L565.4 294.5L565.1 296.6L562.9 299.3L561.8 300.0L562.6 301.2L563.2 302.6L566.8 304.4L566.5 306.7L570.1 306.8L571.6 309.3L574.5 309.6L575.5 310.2L576.6 310.6L578.9 313.6L579.5 315.8L581.1 315.5L582.6 319.7L584.0 321.6L586.0 321.4L587.5 322.3L590.1 324.7L590.6 324.5L593.5 324.3L593.2 327.2L595.5 329.2L596.2 331.4L594.6 331.6L597.3 336.0L597.9 336.8L595.4 338.9L595.0 340.0L592.9 342.4L591.7 343.7L592.8 345.5L592.8 348.8L592.9 351.7L591.7 352.5L593.1 356.1L593.0 357.4L592.0 358.8L593.4 362.5L594.8 362.6L596.1 365.1L600.2 364.3L601.1 365.5L602.3 364.5L604.3 365.6L605.7 369.2L608.4 370.6L607.2 372.5L606.9 373.8L605.5 375.9L603.3 375.8L603.1 376.4L598.6 377.2L597.8 376.9L597.9 379.1L598.8 381.8L598.0 383.9L599.9 385.8L597.4 389.3L596.5 390.8L594.8 392.9L593.5 393.6L593.0 394.8L591.8 395.6L590.0 398.0L589.1 398.4L587.3 401.3L585.4 404.2L584.8 406.6L583.7 408.1L582.5 408.8L582.5 412.0L583.9 412.9L584.1 416.2L584.6 417.4L586.1 420.2L586.4 423.6L584.0 424.4L582.8 426.9L580.6 425.8L579.5 425.9L575.0 427.7L575.3 429.7L574.6 429.6L571.7 431.9L572.2 432.4L569.8 434.9L567.1 437.0L565.8 437.4L563.3 438.7L563.5 440.2L564.9 443.8L562.2 446.3L563.8 448.3L561.7 450.1L561.8 451.0L560.2 455.4L557.6 456.1L557.6 457.6L556.3 459.4L553.4 458.3L551.3 461.1L550.8 462.2L548.4 464.1L546.3 466.7L547.1 468.0L548.9 468.3L548.4 471.6L549.8 474.2L548.7 475.7L545.9 476.1L543.4 477.3L541.7 480.7L541.2 482.1L540.4 483.3L538.3 483.5L537.0 487.9L534.4 485.5L533.1 488.6L530.6 491.7L528.8 491.1L526.2 492.5L523.9 492.3L522.7 495.1L520.1 493.7L518.2 495.7L517.4 496.3L514.6 496.0L514.9 498.1L511.2 496.9L508.2 497.2L508.0 496.0L506.4 494.8L504.4 497.4L504.7 499.7L501.3 498.8L497.4 498.1L498.3 497.6L495.0 497.3L494.6 498.9L490.8 498.7L488.2 499.8L488.3 500.0L484.1 500.2L483.1 502.4L482.0 501.7L478.9 503.3L476.7 505.3L474.7 503.0L473.1 503.6L469.5 502.2L468.5 502.8L466.3 501.6L465.5 502.1L461.2 501.5L458.6 501.6L457.8 502.2L454.8 500.3L453.3 499.8L451.1 498.4L449.9 497.5L446.3 497.0L444.6 496.6L440.5 498.6L439.6 500.2L439.4 499.6L435.4 498.8L433.2 500.6L430.6 498.9L429.8 498.7L427.5 497.3L424.4 496.5L424.1 495.9L423.6 495.5L423.7 491.6L422.4 488.7L424.1 486.9L423.7 485.1L424.2 481.9L424.9 481.4L426.8 480.5L429.5 479.0L430.4 478.0L432.6 474.6L433.0 472.2L434.4 472.5L434.7 470.3L434.4 466.0L433.3 465.3L435.5 462.9L436.3 461.2L435.5 458.8L434.9 456.2L433.2 454.7L432.5 452.7L431.2 450.5L431.1 448.5M358.5 444.7L357.6 441.9L356.6 441.2L357.3 437.0L357.1 435.4L356.4 434.1L355.6 432.2L355.4 429.2L355.6 427.6L354.1 425.4L354.6 423.3L354.1 420.5L353.4 419.3L355.7 416.9L356.0 416.1L358.1 412.7L356.9 411.7L357.5 408.6L359.5 408.9L362.6 410.6L364.0 410.2L366.8 411.4L367.1 408.8L369.3 408.3L370.7 405.3L369.6 402.5L370.5 401.4L371.7 400.6L374.6 398.4L375.3 398.0L376.2 397.9L380.2 396.7L381.5 395.6L383.1 394.7L384.4 393.7L384.6 390.3L386.0 387.3L384.3 386.9L384.6 384.7L382.8 384.5L380.4 381.6L382.2 382.5L384.4 383.8L385.3 386.3L388.0 387.0L389.7 388.7L391.3 390.0L393.4 391.1L396.1 392.1L398.6 393.1L400.7 394.8L401.8 396.1L404.3 395.1L405.4 398.6L408.1 398.1L409.2 400.0L411.9 400.2L412.4 402.4L414.2 403.8L416.5 405.2L418.5 407.2L418.8 408.7L420.9 409.3L422.9 411.5L424.0 413.9L424.5 415.9L426.1 417.2L426.0 419.4L426.6 421.7L426.0 423.3L425.6 425.3L425.9 429.1L428.1 430.0L428.4 432.2L426.4 433.5L425.4 436.5L422.6 437.6L419.9 436.9L422.1 439.4L422.6 440.6L421.9 444.1L419.7 445.6L420.2 446.4L421.6 448.9L424.1 447.7L424.9 446.2L426.5 444.6L427.9 444.7L430.3 446.6L430.9 449.1L432.2 450.5M359.8 443.4L359.7 441.7L355.8 441.6L353.4 441.8L351.1 440.3L350.0 440.2L348.1 440.9L345.5 439.1L344.0 439.7L340.1 442.5L339.1 443.1L336.8 442.7L335.0 442.8L333.2 442.1L328.9 442.5L331.0 441.2L325.9 441.0L325.0 438.2L323.5 437.4L321.6 437.0L319.0 435.7L314.3 436.2L313.6 435.2L312.9 434.4L309.4 434.4L307.6 432.5L304.8 430.3L305.9 429.2L303.6 428.1L300.7 427.0L299.4 426.3L297.4 426.0L294.6 424.8L293.3 426.0L291.8 426.6L290.0 426.4L288.6 428.9L286.7 427.2L285.9 423.7L286.2 422.2L284.9 420.6L283.8 417.8L284.8 416.4L282.6 413.9L282.0 412.2L281.5 409.4L279.2 407.9L279.8 405.2L278.8 404.0L277.5 400.0L277.5 399.5L276.1 398.0L274.5 395.3L275.6 392.6L275.5 391.0L277.9 387.9L278.4 385.9L278.7 384.3L279.3 382.4L279.9 381.1L279.4 377.4L278.4 376.7L278.1 372.5L277.2 370.9L276.8 369.3L277.0 368.1L276.0 364.5L275.8 361.6L273.3 365.4L271.5 366.9L270.2 367.8L269.9 369.6L269.5 369.2L267.5 368.6L263.9 367.8L262.4 367.1L263.4 372.2L262.3 372.4L260.0 374.2L261.1 376.9L258.1 376.2L256.8 377.8L253.9 376.5L252.6 374.2L250.7 372.4L248.3 370.6L248.5 368.6L247.9 367.2L248.9 363.9L247.2 363.5L247.8 360.7L251.6 359.9L253.6 359.6L253.9 355.0L253.6 353.6L251.5 352.7L252.2 350.0L252.3 347.7L252.7 345.8L251.4 342.9L254.3 341.4L255.7 338.5L255.9 336.2L257.9 336.8L259.9 333.2L260.4 331.6L262.5 331.5L263.8 329.5L264.4 326.4L263.4 324.4L261.8 322.8L262.1 320.1L259.5 319.5L257.5 317.9L256.9 316.6L254.8 315.7L257.3 314.1L259.4 313.4L260.2 311.6L261.8 307.4L264.0 307.9L263.1 305.0L259.4 303.5L257.7 304.0L257.8 302.7L255.0 303.8L250.9 305.6L251.2 302.3L252.3 299.9L250.8 299.5L249.7 300.4L247.2 300.0L245.3 298.6L241.8 299.5L241.8 298.2L241.5 298.1L237.8 295.7L237.5 294.6L235.3 293.7L233.1 291.4L231.8 290.1L230.6 288.0L230.8 284.9L234.3 285.2L236.7 285.2L239.1 283.5L241.0 284.5L240.5 283.0L238.2 281.4L236.4 278.1L236.7 276.7L236.4 275.6L235.6 272.9L233.5 270.0L232.3 271.8L229.6 273.7L228.9 273.5L226.0 274.9L224.7 277.6L223.1 275.8L220.9 274.8L219.9 273.1L216.0 272.4L214.6 272.6L218.1 269.3L219.4 266.5L220.4 264.7L218.8 263.7L217.5 262.7L215.6 259.9L212.9 259.5L211.9 257.0L211.6 255.8L209.8 253.9L210.8 252.0L207.0 249.2L206.9 247.4L208.7 245.8L208.0 242.2L208.2 241.3L208.7 239.4L209.4 237.7L210.8 234.6L209.6 232.3L209.4 230.4L208.3 227.5L209.1 225.7L208.0 223.6M208.2 223.1L207.9 225.4L208.7 227.5L207.9 230.2L210.6 232.3L210.8 233.7L212.2 236.5L212.4 237.3L213.4 239.7L214.2 243.1L214.9 244.3L214.0 247.0L216.3 248.1L216.9 250.0L217.7 252.0L219.3 254.2L219.4 256.0L220.0 258.4L220.3 260.9L222.4 262.8L223.8 263.7L225.3 265.6L226.4 267.3L228.3 267.4L230.9 266.4L233.6 267.6L234.5 266.2L236.3 263.5L237.0 263.0L238.4 263.0L241.5 263.5L242.7 265.3L245.6 264.1L248.2 265.1L249.6 264.0L251.8 265.3L255.5 267.0L256.2 267.7L258.4 267.1L260.8 268.6L262.2 268.4L264.0 269.9L266.1 271.7L266.4 273.4L270.6 273.3L271.1 274.9L273.1 275.6L276.0 276.0L277.5 277.9L278.6 280.1L280.9 280.8L281.3 283.0L282.8 285.0L283.5 286.0L284.9 289.1L286.6 291.3L287.4 293.3L288.5 295.1L289.9 296.1L290.3 298.0L290.9 299.8L292.1 301.7L294.3 303.8L292.8 307.0L292.3 309.3L291.4 310.2L291.1 313.3L290.8 314.2L290.1 316.9L289.6 318.7L290.6 318.1L292.6 318.1L295.2 316.9L297.3 315.4L299.2 314.1L300.2 314.8L301.0 317.1L303.2 318.6L304.5 320.9L304.8 320.7L308.1 320.5L310.0 319.7L312.6 319.1L311.6 317.5L310.8 314.8L311.3 312.2L309.1 309.4L309.0 308.4L308.2 307.3L309.6 309.3L310.3 308.5L312.7 311.4L314.7 313.4L315.9 314.6L317.5 316.9L318.6 318.4L321.2 319.6L322.2 321.5L324.3 319.8L324.6 318.9L327.6 317.7L328.5 317.6L331.3 314.9L333.0 314.5L333.8 313.6L336.0 311.4L338.0 310.2L339.2 308.3L341.2 310.0L342.2 311.4L344.3 313.3L345.9 313.5L348.6 315.0L351.2 315.2L349.4 313.9L347.6 313.2L345.3 311.1L346.2 309.8L347.1 307.6L347.3 306.6L348.7 304.9L350.5 301.0L350.6 300.5L352.6 297.5L352.0 295.3L351.8 292.8L352.6 291.1L354.2 287.8L353.1 285.9L354.6 283.7L354.8 282.1L355.9 280.3L355.7 278.1L355.8 275.7L357.9 273.6L359.2 271.3L361.3 271.1L362.2 269.3L365.0 267.9L363.9 267.7L362.0 267.1L359.2 267.4L357.6 267.0L355.7 269.9L354.0 270.8L352.6 271.6L349.9 273.0L347.9 270.8L347.3 269.7L344.7 269.9L342.7 267.9L342.0 266.6L340.6 265.0L338.9 262.7L340.6 260.3L341.6 259.3L342.0 255.7L341.6 254.0L343.2 251.3L342.6 249.2M323.1 277.3L324.1 276.5L327.3 274.0L329.2 273.8L330.5 275.1L332.7 275.3L335.1 276.9L335.9 277.9L338.2 280.3L338.3 282.0L339.6 284.2L340.0 286.3L341.5 288.6L340.5 290.9L340.7 292.3L339.2 296.2L338.2 296.9L335.9 297.4L334.2 297.4L333.7 295.8L332.6 293.3L331.0 291.5L329.0 289.5L328.3 288.0L327.3 285.5L325.7 284.0L324.8 281.8L324.0 279.4L323.1 277.3M308.2 305.3L308.9 307.3L310.6 309.4L311.7 310.7L312.8 313.3L314.6 314.2L317.6 313.0L318.9 312.5L321.1 311.1L323.0 311.1L325.4 308.9L326.7 308.5L328.1 306.1L329.7 304.5L330.4 303.5L328.2 303.3L325.0 302.9L323.1 302.5L321.9 304.1L320.3 306.0L317.6 307.6L316.2 308.6L314.7 308.8L312.1 306.9L310.1 305.9L308.2 305.3M298.5 316.0L298.8 318.8L299.6 321.2L301.1 323.2L302.0 326.2L301.6 328.0L299.0 330.0M368.0 424.0L370.7 423.1L371.6 424.3L372.5 426.7L373.4 429.1L372.4 431.8L372.1 433.7L369.2 434.0L368.3 432.1L367.6 429.2L367.4 426.6L368.0 424.0M374 412l3 1.5l1.5 2.5l-2.5-.5zM381 399l1.5 3M388 401l3 3.5l-1-.2zM230.2 285.4L232.5 285.8L234.6 285.1L236.5 284.7L238.6 284.0L241.7 284.3L244.2 283.5L245.4 283.6L248.1 283.4L250.5 284.3L252.4 283.7L254.5 284.0L256.9 285.0L258.0 285.9L260.8 287.1L262.5 288.3L265.1 290.5L265.1 291.8L265.1 294.6L265.9 297.5L267.4 298.9L267.1 300.5L266.2 302.6L265.7 305.5L263.9 306.5L262.6 307.5L263.1 305.7L263.2 303.3L264.4 302.1L262.1 298.8L262.4 298.1L262.1 294.7L260.7 293.4L259.9 291.9L256.9 290.0L255.3 289.3L253.5 288.0L251.3 286.9L248.8 287.5L246.4 286.6L245.2 287.7L241.9 289.0L240.0 289.0L241.8 290.1L243.5 291.4L244.7 293.4L245.6 294.9L247.8 294.8L249.9 296.3L252.0 296.2L254.1 298.1L256.6 299.4L256.5 301.6L254.1 302.8L252.2 303.6L250.3 303.8L250.3 302.2L247.4 300.8L247.0 299.4L243.9 299.3L241.9 299.7L240.0 299.3L239.8 295.9L237.9 295.2L237.4 293.3L233.5 293.4L231.5 291.3L231.3 289.8L230.9 287.1L230.2 285.4M247.5 360.0L249.0 357.5L248.2 355.8L249.3 353.4L252.2 350.6L251.6 350.1L252.1 346.8L252.6 346.8L250.7 349.5L252.5 351.3L251.5 354.0L250.4 355.8L251.8 358.8L251.3 360.8L251.4 362.4L252.5 365.9L252.8 367.7L251.9 369.2L251.3 372.1L250.0 374.4L249.2 376.6L249.5 373.1L249.0 371.8L248.0 369.1L247.9 367.2L247.4 364.5L247.5 362.3L247.5 360.0M262.0 366.0L261.9 363.6L263.5 361.2L264.1 358.4L265.2 359.4L266.3 362.1L265.3 364.8L265.2 366.8L264.1 369.8L263.2 369.1L262.0 366.0M270.0 368.0L271.6 366.1L272.5 364.1L273.7 362.4L274.9 365.0L275.4 367.7L275.8 370.0L275.9 372.1L275.1 373.9L273.2 372.0L271.7 369.6L270.0 368.0M252.0 330.0L253.1 328.5L253.8 324.5L255.3 322.6L256.6 322.4L256.9 323.7L257.7 326.8L256.9 328.8L255.7 331.7L256.1 333.8L254.8 336.5L253.8 338.6L253.0 341.1L252.5 343.0L252.0 345.0M334.0 438.0L334.7 434.9L335.3 434.1L336.6 432.9L339.2 434.5L338.6 434.9L341.7 434.0L342.3 432.3L345.2 432.5L346.7 434.4L346.1 435.5L346.2 438.4L343.0 440.2L342.7 441.3L340.7 443.7L336.9 440.9L336.7 439.0L334.0 438.0M336.0 435.0L338.2 436.6L340.2 438.2L341.1 435.4L342.9 435.0L345.0 437.0M278.0 396.0L280.0 395.5L280.0 400.2L280.5 402.0L281.2 404.7L281.4 406.7L284.3 405.9L283.5 408.7L284.0 410.0M281.0 404.0L281.3 406.3L283.1 408.0L283.5 410.6L285.0 412.2L284.4 413.5L284.9 413.7L285.3 417.0L286.1 419.3L287.0 420.0M284.0 412.0L284.2 412.9L285.1 416.4L286.8 417.2L287.2 419.4L289.4 420.3L289.0 423.0L291.0 424.0" fill="none" stroke="#000" stroke-width="0.8" stroke-linejoin="round"/>
<path d="M199.1 204.8L200.0 202.5L196.6 200.7L196.1 200.8L199.0 200.0L197.8 203.3L196.8 203.1L198.6 202.7M193.6 221.5L194.0 216.3L197.8 223.6L198.1 216.9L195.1 217.7L195.1 217.2L196.2 223.3L198.3 223.2M196.9 231.3L196.3 234.5L197.7 231.3L197.5 228.7L195.2 236.5L195.8 237.4L198.8 229.4L196.1 233.8M207.5 214.5L208.7 215.1L208.8 215.5L209.2 220.5L206.7 221.5L209.5 219.3L209.3 216.2L206.3 219.4M212.3 229.9L211.4 228.7L214.4 228.5L213.7 224.5L215.7 224.7L211.7 229.7L215.6 226.0L210.2 227.1M206.5 239.6L204.1 238.5L206.0 238.9L206.3 237.3L204.8 235.3L205.7 234.0L205.3 232.7L204.2 232.2M211.4 250.6L211.3 251.4L211.8 257.0L213.7 250.4L211.9 256.5L214.1 252.4L211.1 253.0L212.6 252.3M219.8 266.9L218.9 265.5L219.2 267.3L217.9 264.5L216.4 265.2L216.0 263.1L219.1 262.8L216.5 267.4M224.5 273.0L221.4 270.4L221.3 270.8L221.9 270.5L221.4 274.7L225.8 273.4L224.6 271.6L223.2 271.8M198.5 203.9L197.3 203.5L198.4 206.8L198.4 203.6L197.2 205.4L198.2 204.5L196.5 203.5L197.2 205.4M196.2 225.8L196.4 222.3L196.5 222.2L194.8 222.5L194.8 223.4L196.1 222.0L194.6 224.7L195.3 226.9M197.1 233.5L198.5 233.8L199.2 235.8L198.5 236.7L199.0 235.8L197.8 237.1L197.4 234.9L198.8 235.2M202.8 247.5L203.0 246.6L201.3 245.6L202.7 248.4L203.4 247.0L202.9 243.2L201.6 248.7L202.8 247.2M207.5 253.9L204.1 256.0L205.7 254.4L204.4 253.3L207.0 257.7L204.2 255.5L205.1 255.7L204.9 257.5M209.5 262.9L209.7 263.2L210.7 260.9L208.1 259.0L209.1 263.6L210.1 261.8L208.2 260.9L210.1 263.2M215.0 269.8L214.8 268.2L213.8 271.3L215.4 272.7L214.9 271.5L213.8 270.3L213.3 272.6L213.4 269.2M211.9 219.0L209.6 221.5L207.4 216.6L210.3 216.2L212.3 221.8L208.7 221.2L209.8 219.3L209.6 221.4M212.6 231.5L212.7 227.5L216.0 226.5L211.7 229.6L215.7 231.1L214.6 226.1L211.3 230.8L215.0 231.9M206.4 240.8L206.1 238.5L207.8 241.5L205.3 240.9L208.4 241.8L206.2 238.0L205.9 238.7L206.5 240.4M209.4 244.9L209.0 245.4L210.6 248.8L210.8 246.4L210.4 245.2L209.1 246.3L208.9 245.2L210.8 246.7M229.6 276.9L229.5 278.8L230.5 277.1L230.7 279.4L226.8 277.6L227.9 280.0L229.4 276.6L228.4 279.1M232.3 281.9L235.4 282.0L232.8 282.8L233.9 281.7L233.2 279.1L232.3 281.3L236.5 281.7L232.3 279.1" fill="none" stroke="#000" stroke-width="0.8" stroke-linejoin="round"/>
<path d="M206.4 99.8L209.0 98.0L214.0 97.0L219.0 97.6L221.8 99.2L220.0 100.4L215.0 100.0L211.0 100.8L207.5 101.3ZM217.5 168.8L220.0 167.3L223.6 167.6L222.0 169.6L219.0 169.8Z" fill="#000" stroke="#000" stroke-width="0.6"/>
<circle cx="263.5" cy="88.0" r="0.75" fill="#000"/><circle cx="266.5" cy="89.6" r="0.75" fill="#000"/><circle cx="271.2" cy="91.9" r="0.75" fill="#000"/><circle cx="274.0" cy="95.0" r="0.75" fill="#000"/><circle cx="276.0" cy="98.6" r="0.75" fill="#000"/><circle cx="278.9" cy="103.4" r="0.75" fill="#000"/><circle cx="279.8" cy="109.1" r="0.75" fill="#000"/><circle cx="278.9" cy="113.0" r="0.75" fill="#000"/><circle cx="262.5" cy="92.5" r="0.75" fill="#000"/><circle cx="236.0" cy="96.0" r="0.75" fill="#000"/><circle cx="446.8" cy="526.4" r="0.75" fill="#000"/><circle cx="451.0" cy="530.0" r="0.75" fill="#000"/><circle cx="455.5" cy="532.5" r="0.75" fill="#000"/><circle cx="460.2" cy="536.0" r="0.75" fill="#000"/><circle cx="419.0" cy="515.5" r="0.75" fill="#000"/><circle cx="424.5" cy="514.0" r="0.75" fill="#000"/><circle cx="521.5" cy="629.5" r="0.75" fill="#000"/><circle cx="626.0" cy="430.0" r="0.75" fill="#000"/>
<path d="M110.5 170l2.5-2.5l3 .8l2.2 3.2l-1 4l-2.5 2.5l-3.2.5l-1.5-3.5zM107 178.5l2.5-1.5l3 2l.8 3.5l-2.2 3.3l-3.3.5l-1.6-3.2z" fill="#000" stroke="#000" stroke-width="1.6" stroke-linejoin="round"/><path d="M113.5 172.5l1 2M109 181l1 1.6" stroke="#c9d6de" stroke-width="1.1" fill="none"/>
<path d="M108 186l2 1.5M112 167l1.5-2M116 180l1.8 1.2M106.5 174l1.5 1.5" stroke="#000" stroke-width="1.2" fill="none"/>
<defs><linearGradient id="sag" x1="0" y1="0" x2="1" y2="1"><stop offset="0" stop-color="#e3eed2"/><stop offset="0.6" stop-color="#b9d7c3"/><stop offset="1" stop-color="#9cc0c6"/></linearGradient></defs>
<polygon points="103.0,226.8 112.2,224.5 119.9,219.9 122.9,216.8 123.7,220.7 123.7,225.2 127.5,231.4 121.4,236.0 115.3,242.1 109.1,246.7 103.0,250.5" fill="url(#sag)" stroke="#000" stroke-width="0.7"/>
<path d="M127.1 231.6l0.3 -0.2l2.6 -1.9M125.1 233.4l-0.5 1.6l1.7 3.9M125.5 230.6l-0.1 0.5l1.6 0.7M125.5 234.7l-2.5 -1.4l-4.3 3.3M122.1 233.9l-3.4 -1.1l0.6 -1.0M120.8 234.1l3.7 -1.4l-3.2 -1.4M119.9 235.5l-0.8 -2.6l-0.8 0.4M117.6 238.8l3.1 -4.1l-1.1 1.7M120.0 239.3l-4.1 -2.6l-1.4 0.7M116.2 238.5l0.6 1.1l-3.0 0.0M116.7 238.3l2.3 -0.9l2.6 -1.5M117.8 241.6l-1.9 0.4l0.4 -2.2M115.8 241.2l-2.0 -0.0l1.6 -0.5M113.0 243.3l-2.2 0.5l2.1 1.4M110.8 241.7l-0.4 -0.6l1.1 1.0M112.3 243.3l2.0 2.4l-3.9 4.4M110.6 244.7l-3.4 -1.1l-2.6 2.2M111.4 244.6l-0.4 0.7l-1.9 -1.3M108.5 246.4l0.0 -2.6l0.7 1.0M110.2 245.5l0.8 4.2l-0.7 -0.8M108.2 246.4l-0.0 -1.1l-1.6 1.7M106.2 246.6l-0.6 -0.3l0.6 1.9M107.9 247.1l-0.6 -3.7l0.4 1.0M104.0 248.2l-2.1 -3.1l1.2 3.8M102.5 252.1l-0.3 -2.9l1.0 1.4M103.4 250.6l3.2 -0.7l1.1 1.2" stroke="#000" stroke-width="1.3" fill="none" stroke-linejoin="round"/>
<path d="M124.5 213l1.5-2.5l1 1.5l-1 3zM123 218l1.5 1" stroke="#000" stroke-width="1.2" fill="#000"/>
<g fill="none" stroke="#b4b4b4" stroke-opacity="0.66" stroke-width="1.3" stroke-dasharray="5.14 2.22"><circle cx="398.5" cy="345.0" r="83.3"/><circle cx="398.5" cy="345.0" r="167.9"/><circle cx="398.5" cy="345.0" r="255.1"/><circle cx="398.5" cy="345.0" r="346.5"/><circle cx="398.5" cy="345.0" r="443.9"/><line x1="398.5" y1="345.0" x2="398.5" y2="-255.0"/><line x1="398.5" y1="345.0" x2="918.1" y2="45.0"/><line x1="398.5" y1="345.0" x2="918.1" y2="645.0"/><line x1="398.5" y1="345.0" x2="398.5" y2="945.0"/><line x1="398.5" y1="345.0" x2="-121.1" y2="645.0"/><line x1="398.5" y1="345.0" x2="-121.1" y2="45.0"/></g>
</g>
<rect x="103.5" y="44.5" width="589.0" height="602.0" fill="none" stroke="#000" stroke-width="1.11"/>
<text x="440.0" y="422.1" font-size="13.89" text-anchor="middle">80°S</text>
<text x="482.5" y="495.1" font-size="13.89" text-anchor="middle">70°S</text>
<text x="526.0" y="571.0" font-size="13.89" text-anchor="middle">60°S</text>
<text x="571.5" y="650.0" font-size="13.89" text-anchor="middle">50°S</text>
<text transform="translate(403.2,672.5) rotate(-90)" font-size="13.89" text-anchor="middle">180°</text>
<rect x="45.20" y="710.5" width="27.72" height="38.4" fill="#062538" shape-rendering="crispEdges"/><rect x="72.32" y="710.5" width="27.72" height="38.4" fill="#082c4f" shape-rendering="crispEdges"/><rect x="99.43" y="710.5" width="27.72" height="38.4" fill="#0f3267" shape-rendering="crispEdges"/><rect x="126.55" y="710.5" width="27.72" height="38.4" fill="#1e3582" shape-rendering="crispEdges"/><rect x="153.66" y="710.5" width="27.72" height="38.4" fill="#32349b" shape-rendering="crispEdges"/><rect x="180.78" y="710.5" width="27.72" height="38.4" fill="#4736a0" shape-rendering="crispEdges"/><rect x="207.89" y="710.5" width="27.72" height="38.4" fill="#563b9c" shape-rendering="crispEdges"/><rect x="235.01" y="710.5" width="27.72" height="38.4" fill="#644198" shape-rendering="crispEdges"/><rect x="262.12" y="710.5" width="27.72" height="38.4" fill="#724795" shape-rendering="crispEdges"/><rect x="289.24" y="710.5" width="27.72" height="38.4" fill="#804e92" shape-rendering="crispEdges"/><rect x="316.35" y="710.5" width="27.72" height="38.4" fill="#8e538e" shape-rendering="crispEdges"/><rect x="343.47" y="710.5" width="27.72" height="38.4" fill="#9c588a" shape-rendering="crispEdges"/><rect x="370.58" y="710.5" width="27.72" height="38.4" fill="#aa5c85" shape-rendering="crispEdges"/><rect x="397.70" y="710.5" width="27.72" height="38.4" fill="#b9617f" shape-rendering="crispEdges"/><rect x="424.82" y="710.5" width="27.72" height="38.4" fill="#c76678" shape-rendering="crispEdges"/><rect x="451.93" y="710.5" width="27.72" height="38.4" fill="#d56b6f" shape-rendering="crispEdges"/><rect x="479.05" y="710.5" width="27.72" height="38.4" fill="#e17363" shape-rendering="crispEdges"/><rect x="506.16" y="710.5" width="27.72" height="38.4" fill="#ec7c56" shape-rendering="crispEdges"/><rect x="533.28" y="710.5" width="27.72" height="38.4" fill="#f4884b" shape-rendering="crispEdges"/><rect x="560.39" y="710.5" width="27.72" height="38.4" fill="#f99643" shape-rendering="crispEdges"/><rect x="587.51" y="710.5" width="27.72" height="38.4" fill="#fba33f" shape-rendering="crispEdges"/><rect x="614.62" y="710.5" width="27.72" height="38.4" fill="#fbb13e" shape-rendering="crispEdges"/><rect x="641.74" y="710.5" width="27.72" height="38.4" fill="#fac044" shape-rendering="crispEdges"/><rect x="668.85" y="710.5" width="27.72" height="38.4" fill="#f6cf4b" shape-rendering="crispEdges"/><rect x="695.97" y="710.5" width="27.72" height="38.4" fill="#f1df52" shape-rendering="crispEdges"/><rect x="723.08" y="710.5" width="27.72" height="38.4" fill="#e8f35a" shape-rendering="crispEdges"/><polygon points="45.2,710.5 10.0,729.7 45.2,748.9" fill="#0c3c94"/><polygon points="750.2,710.5 785.4,729.7 750.2,748.9" fill="#ec200c"/><polygon points="45.2,710.5 750.2,710.5 785.4,729.7 750.2,748.9 45.2,748.9 10.0,729.7" fill="none" stroke="#000" stroke-width="1.11" stroke-linejoin="miter"/><line x1="45.20" y1="749.4" x2="45.20" y2="754.3" stroke="#000" stroke-width="1.11"/><text x="45.20" y="771" font-size="13.89" text-anchor="middle">−2</text><line x1="72.32" y1="749.4" x2="72.32" y2="754.3" stroke="#000" stroke-width="1.11"/><text x="72.32" y="771" font-size="13.89" text-anchor="middle">−1</text><line x1="99.43" y1="749.4" x2="99.43" y2="754.3" stroke="#000" stroke-width="1.11"/><text x="99.43" y="771" font-size="13.89" text-anchor="middle">0</text><line x1="126.55" y1="749.4" x2="126.55" y2="754.3" stroke="#000" stroke-width="1.11"/><text x="126.55" y="771" font-size="13.89" text-anchor="middle">1</text><line x1="153.66" y1="749.4" x2="153.66" y2="754.3" stroke="#000" stroke-width="1.11"/><text x="153.66" y="771" font-size="13.89" text-anchor="middle">2</text><line x1="180.78" y1="749.4" x2="180.78" y2="754.3" stroke="#000" stroke-width="1.11"/><text x="180.78" y="771" font-size="13.89" text-anchor="middle">3</text><line x1="207.89" y1="749.4" x2="207.89" y2="754.3" stroke="#000" stroke-width="1.11"/><text x="207.89" y="771" font-size="13.89" text-anchor="middle">4</text><line x1="235.01" y1="749.4" x2="235.01" y2="754.3" stroke="#000" stroke-width="1.11"/><text x="235.01" y="771" font-size="13.89" text-anchor="middle">5</text><line x1="262.12" y1="749.4" x2="262.12" y2="754.3" stroke="#000" stroke-width="1.11"/><text x="262.12" y="771" font-size="13.89" text-anchor="middle">6</text><line x1="289.24" y1="749.4" x2="289.24" y2="754.3" stroke="#000" stroke-width="1.11"/><text x="289.24" y="771" font-size="13.89" text-anchor="middle">7</text><line x1="316.35" y1="749.4" x2="316.35" y2="754.3" stroke="#000" stroke-width="1.11"/><text x="316.35" y="771" font-size="13.89" text-anchor="middle">8</text><line x1="343.47" y1="749.4" x2="343.47" y2="754.3" stroke="#000" stroke-width="1.11"/><text x="343.47" y="771" font-size="13.89" text-anchor="middle">9</text><line x1="370.58" y1="749.4" x2="370.58" y2="754.3" stroke="#000" stroke-width="1.11"/><text x="370.58" y="771" font-size="13.89" text-anchor="middle">10</text><line x1="397.70" y1="749.4" x2="397.70" y2="754.3" stroke="#000" stroke-width="1.11"/><text x="397.70" y="771" font-size="13.89" text-anchor="middle">11</text><line x1="424.82" y1="749.4" x2="424.82" y2="754.3" stroke="#000" stroke-width="1.11"/><text x="424.82" y="771" font-size="13.89" text-anchor="middle">12</text><line x1="451.93" y1="749.4" x2="451.93" y2="754.3" stroke="#000" stroke-width="1.11"/><text x="451.93" y="771" font-size="13.89" text-anchor="middle">13</text><line x1="479.05" y1="749.4" x2="479.05" y2="754.3" stroke="#000" stroke-width="1.11"/><text x="479.05" y="771" font-size="13.89" text-anchor="middle">14</text><line x1="506.16" y1="749.4" x2="506.16" y2="754.3" stroke="#000" stroke-width="1.11"/><text x="506.16" y="771" font-size="13.89" text-anchor="middle">15</text><line x1="533.28" y1="749.4" x2="533.28" y2="754.3" stroke="#000" stroke-width="1.11"/><text x="533.28" y="771" font-size="13.89" text-anchor="middle">16</text><line x1="560.39" y1="749.4" x2="560.39" y2="754.3" stroke="#000" stroke-width="1.11"/><text x="560.39" y="771" font-size="13.89" text-anchor="middle">17</text><line x1="587.51" y1="749.4" x2="587.51" y2="754.3" stroke="#000" stroke-width="1.11"/><text x="587.51" y="771" font-size="13.89" text-anchor="middle">18</text><line x1="614.62" y1="749.4" x2="614.62" y2="754.3" stroke="#000" stroke-width="1.11"/><text x="614.62" y="771" font-size="13.89" text-anchor="middle">19</text><line x1="641.74" y1="749.4" x2="641.74" y2="754.3" stroke="#000" stroke-width="1.11"/><text x="641.74" y="771" font-size="13.89" text-anchor="middle">20</text><line x1="668.85" y1="749.4" x2="668.85" y2="754.3" stroke="#000" stroke-width="1.11"/><text x="668.85" y="771" font-size="13.89" text-anchor="middle">21</text><line x1="695.97" y1="749.4" x2="695.97" y2="754.3" stroke="#000" stroke-width="1.11"/><text x="695.97" y="771" font-size="13.89" text-anchor="middle">22</text><line x1="723.08" y1="749.4" x2="723.08" y2="754.3" stroke="#000" stroke-width="1.11"/><text x="723.08" y="771" font-size="13.89" text-anchor="middle">23</text><line x1="750.20" y1="749.4" x2="750.20" y2="754.3" stroke="#000" stroke-width="1.11"/><text x="750.20" y="771" font-size="13.89" text-anchor="middle">24</text>
</svg></body></html>
